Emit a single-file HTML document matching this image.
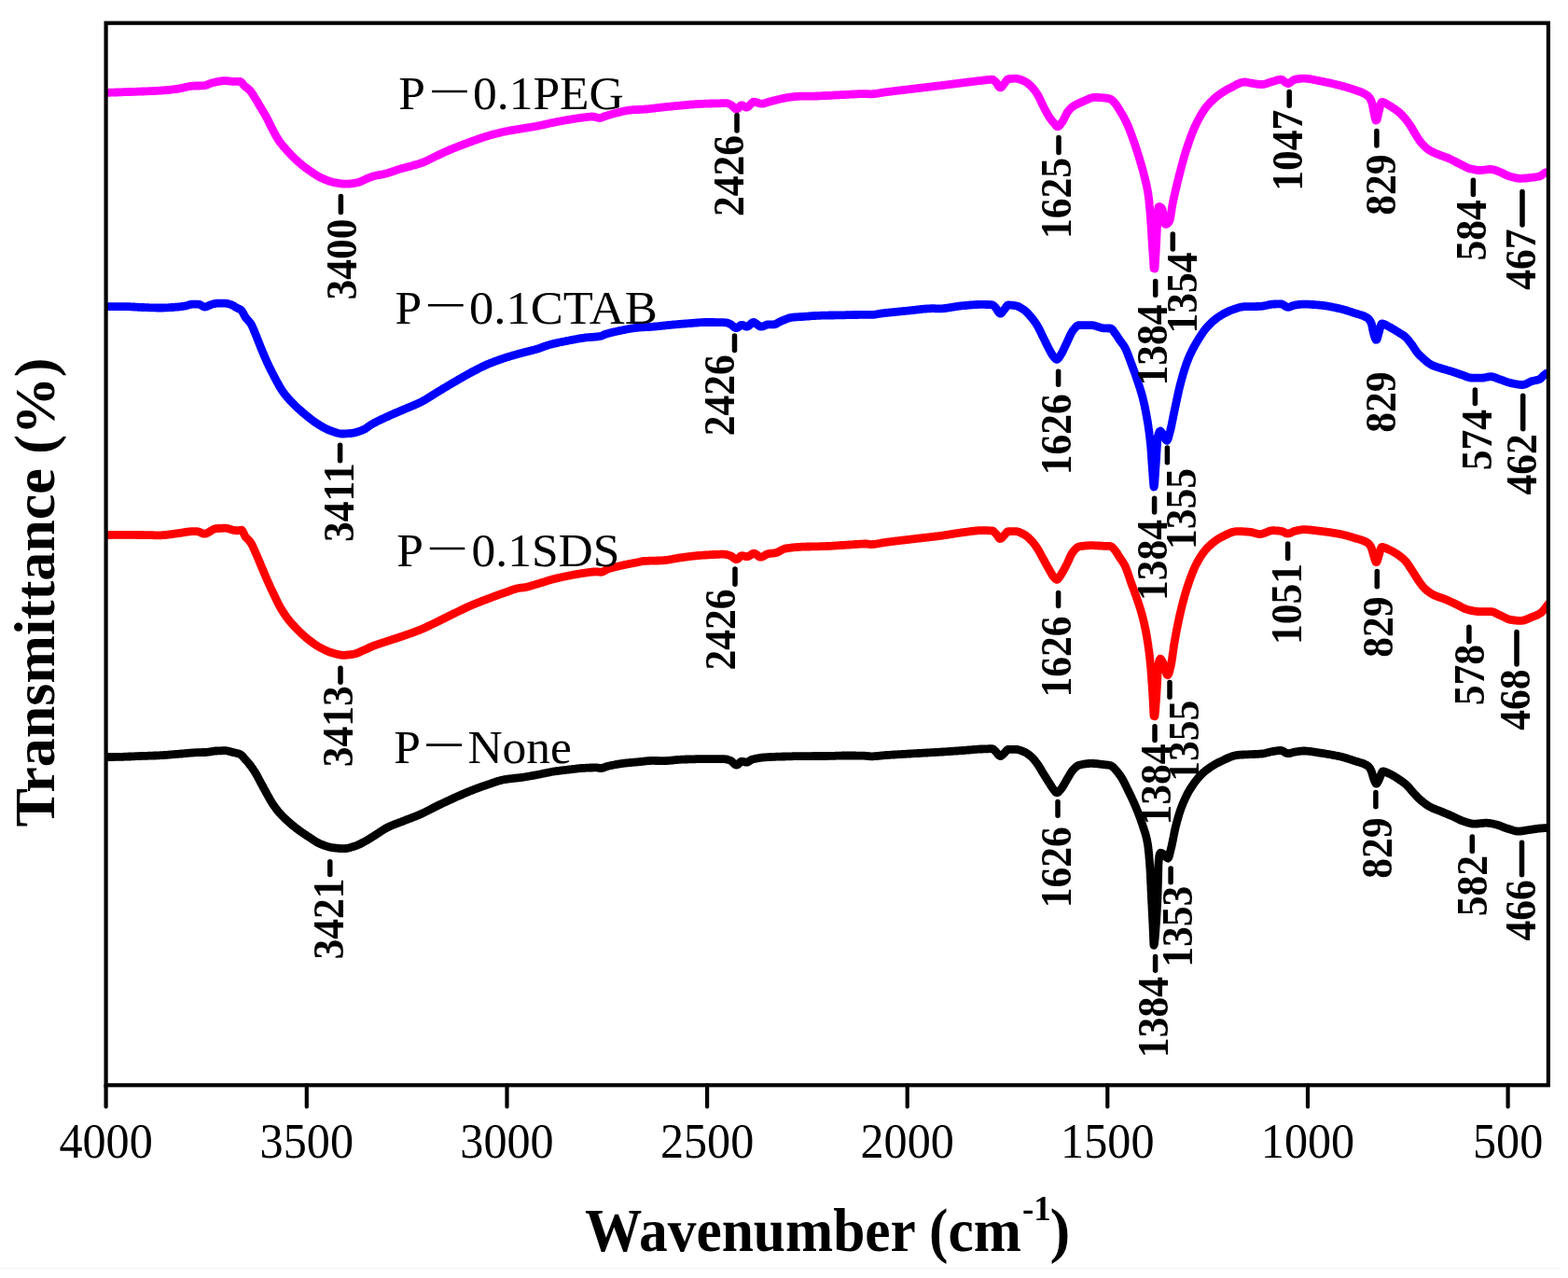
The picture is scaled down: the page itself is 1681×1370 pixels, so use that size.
<!DOCTYPE html><html><head><meta charset="utf-8"><title>FTIR spectra</title><style>html,body{margin:0;padding:0;background:#fff;overflow:hidden}svg{display:block}</style></head><body>
<svg width="1681" height="1370" viewBox="0 0 1681 1370">
<rect width="1681" height="1370" fill="#ffffff"/>
<defs><clipPath id="pc"><rect x="113.6" y="0" width="1546.3" height="1370"/></clipPath></defs>
<g clip-path="url(#pc)" fill="none" stroke-width="8.8" stroke-linejoin="round" stroke-linecap="round">
<path stroke="#ff00ff" d="M110.0,99.3 L111.0,99.3 112.0,99.3 113.0,99.3 114.0,99.3 115.0,99.3 116.0,99.3 117.0,99.3 118.0,99.2 119.0,99.2 120.0,99.2 121.0,99.2 122.0,99.1 123.0,99.1 124.0,99.0 125.0,99.0 126.0,99.0 127.0,98.9 128.0,98.9 129.0,98.8 130.0,98.8 131.0,98.8 132.0,98.7 133.0,98.7 134.0,98.7 135.0,98.6 136.0,98.6 137.0,98.6 138.0,98.5 139.0,98.5 140.0,98.5 141.0,98.4 142.0,98.4 143.0,98.4 144.0,98.3 145.0,98.3 146.0,98.3 147.0,98.2 148.0,98.2 149.0,98.2 150.0,98.1 151.0,98.1 152.0,98.0 153.0,98.0 154.0,98.0 155.0,97.9 156.0,97.9 157.0,97.9 158.0,97.8 159.0,97.8 160.0,97.7 161.0,97.7 162.0,97.6 163.0,97.6 164.0,97.6 165.0,97.5 166.0,97.5 167.0,97.4 168.0,97.4 169.0,97.3 170.0,97.2 171.0,97.2 172.0,97.1 173.0,97.0 174.0,97.0 175.0,96.9 176.0,96.8 177.0,96.7 178.0,96.6 179.0,96.6 180.0,96.5 181.0,96.4 182.0,96.3 183.0,96.2 184.0,96.0 185.0,95.9 186.0,95.8 187.0,95.7 188.0,95.6 189.0,95.4 190.0,95.3 191.0,95.2 192.0,95.0 193.0,94.9 194.0,94.6 195.0,94.4 196.0,94.2 197.0,93.9 198.0,93.7 199.0,93.4 200.0,93.2 201.0,93.0 202.0,92.8 203.0,92.6 204.0,92.4 205.0,92.3 206.0,92.2 207.0,92.1 208.0,92.1 209.0,92.1 210.0,92.0 211.0,92.0 212.0,92.0 213.0,92.0 214.0,91.9 215.0,91.9 216.0,91.9 217.0,91.8 218.0,91.8 219.0,91.7 220.0,91.6 221.0,91.3 222.0,90.9 223.0,90.5 224.0,90.0 225.0,89.6 226.0,89.3 227.0,89.0 228.0,88.8 229.0,88.5 230.0,88.3 231.0,88.1 232.0,87.8 233.0,87.6 234.0,87.4 235.0,87.2 236.0,87.1 237.0,86.9 238.0,86.8 239.0,86.7 240.0,86.6 241.0,86.6 242.0,86.6 243.0,86.7 244.0,86.7 245.0,86.9 246.0,87.0 247.0,87.1 248.0,87.2 249.0,87.3 250.0,87.3 251.0,87.3 252.0,87.3 253.0,87.3 254.0,87.3 255.0,87.3 256.0,87.3 257.0,87.3 258.0,87.5 259.0,88.4 260.0,89.6 261.0,90.9 262.0,92.0 263.0,92.9 264.0,93.7 265.0,94.4 266.0,95.2 267.0,96.1 268.0,97.1 269.0,98.3 270.0,99.6 271.0,101.1 272.0,102.8 273.0,104.4 274.0,106.0 275.0,107.6 276.0,109.3 277.0,111.0 278.0,112.7 279.0,114.4 280.0,116.0 281.0,117.7 282.0,119.4 283.0,121.0 284.0,122.7 285.0,124.5 286.0,126.3 287.0,128.3 288.0,130.3 289.0,132.4 290.0,134.5 291.0,136.5 292.0,138.4 293.0,140.3 294.0,142.2 295.0,144.0 296.0,145.8 297.0,147.6 298.0,149.2 299.0,150.8 300.0,152.2 301.0,153.5 302.0,154.8 303.0,156.0 304.0,157.2 305.0,158.3 306.0,159.5 307.0,160.6 308.0,161.7 309.0,162.8 310.0,163.8 311.0,164.9 312.0,166.0 313.0,167.0 314.0,168.0 315.0,169.0 316.0,170.0 317.0,171.0 318.0,171.9 319.0,172.8 320.0,173.7 321.0,174.6 322.0,175.4 323.0,176.3 324.0,177.1 325.0,177.9 326.0,178.7 327.0,179.4 328.0,180.2 329.0,180.9 330.0,181.6 331.0,182.3 332.0,183.0 333.0,183.7 334.0,184.4 335.0,185.1 336.0,185.7 337.0,186.4 338.0,187.0 339.0,187.7 340.0,188.3 341.0,188.9 342.0,189.4 343.0,190.0 344.0,190.5 345.0,190.9 346.0,191.4 347.0,191.8 348.0,192.2 349.0,192.7 350.0,193.1 351.0,193.4 352.0,193.8 353.0,194.2 354.0,194.5 355.0,194.8 356.0,195.1 357.0,195.4 358.0,195.6 359.0,195.8 360.0,196.0 361.0,196.1 362.0,196.3 363.0,196.5 364.0,196.6 365.0,196.7 366.0,196.9 367.0,197.0 368.0,197.1 369.0,197.1 370.0,197.2 371.0,197.2 372.0,197.2 373.0,197.2 374.0,197.1 375.0,197.0 376.0,196.9 377.0,196.8 378.0,196.6 379.0,196.5 380.0,196.3 381.0,196.1 382.0,196.0 383.0,195.8 384.0,195.5 385.0,195.2 386.0,194.8 387.0,194.4 388.0,194.0 389.0,193.5 390.0,193.1 391.0,192.6 392.0,192.1 393.0,191.7 394.0,191.2 395.0,190.8 396.0,190.4 397.0,190.0 398.0,189.7 399.0,189.3 400.0,189.0 401.0,188.7 402.0,188.5 403.0,188.3 404.0,188.0 405.0,187.8 406.0,187.6 407.0,187.4 408.0,187.3 409.0,187.1 410.0,186.9 411.0,186.7 412.0,186.5 413.0,186.2 414.0,186.0 415.0,185.7 416.0,185.4 417.0,185.1 418.0,184.8 419.0,184.5 420.0,184.1 421.0,183.8 422.0,183.4 423.0,183.1 424.0,182.7 425.0,182.4 426.0,182.0 427.0,181.7 428.0,181.4 429.0,181.1 430.0,180.8 431.0,180.5 432.0,180.2 433.0,180.0 434.0,179.7 435.0,179.5 436.0,179.2 437.0,178.9 438.0,178.7 439.0,178.4 440.0,178.2 441.0,177.9 442.0,177.6 443.0,177.3 444.0,177.1 445.0,176.8 446.0,176.5 447.0,176.2 448.0,175.9 449.0,175.6 450.0,175.3 451.0,175.0 452.0,174.6 453.0,174.3 454.0,173.9 455.0,173.5 456.0,173.0 457.0,172.6 458.0,172.1 459.0,171.6 460.0,171.1 461.0,170.6 462.0,170.1 463.0,169.6 464.0,169.1 465.0,168.6 466.0,168.1 467.0,167.6 468.0,167.1 469.0,166.7 470.0,166.2 471.0,165.7 472.0,165.3 473.0,164.8 474.0,164.3 475.0,163.8 476.0,163.4 477.0,162.9 478.0,162.5 479.0,162.0 480.0,161.6 481.0,161.2 482.0,160.7 483.0,160.3 484.0,159.9 485.0,159.5 486.0,159.1 487.0,158.7 488.0,158.3 489.0,157.9 490.0,157.5 491.0,157.1 492.0,156.7 493.0,156.3 494.0,156.0 495.0,155.6 496.0,155.2 497.0,154.8 498.0,154.4 499.0,154.0 500.0,153.7 501.0,153.3 502.0,152.9 503.0,152.5 504.0,152.2 505.0,151.8 506.0,151.4 507.0,151.1 508.0,150.7 509.0,150.4 510.0,150.0 511.0,149.7 512.0,149.3 513.0,149.0 514.0,148.6 515.0,148.3 516.0,147.9 517.0,147.6 518.0,147.3 519.0,146.9 520.0,146.6 521.0,146.3 522.0,146.0 523.0,145.7 524.0,145.4 525.0,145.1 526.0,144.8 527.0,144.6 528.0,144.3 529.0,144.0 530.0,143.7 531.0,143.5 532.0,143.2 533.0,143.0 534.0,142.7 535.0,142.5 536.0,142.2 537.0,142.0 538.0,141.7 539.0,141.5 540.0,141.3 541.0,141.1 542.0,140.9 543.0,140.7 544.0,140.5 545.0,140.3 546.0,140.1 547.0,139.9 548.0,139.7 549.0,139.6 550.0,139.4 551.0,139.2 552.0,139.1 553.0,138.9 554.0,138.8 555.0,138.6 556.0,138.5 557.0,138.3 558.0,138.1 559.0,138.0 560.0,137.8 561.0,137.6 562.0,137.5 563.0,137.3 564.0,137.1 565.0,137.0 566.0,136.8 567.0,136.7 568.0,136.5 569.0,136.3 570.0,136.2 571.0,136.0 572.0,135.8 573.0,135.7 574.0,135.5 575.0,135.3 576.0,135.1 577.0,134.9 578.0,134.7 579.0,134.5 580.0,134.3 581.0,134.1 582.0,133.9 583.0,133.6 584.0,133.4 585.0,133.2 586.0,132.9 587.0,132.7 588.0,132.5 589.0,132.2 590.0,132.0 591.0,131.8 592.0,131.6 593.0,131.4 594.0,131.2 595.0,131.0 596.0,130.8 597.0,130.6 598.0,130.4 599.0,130.2 600.0,130.0 601.0,129.8 602.0,129.7 603.0,129.5 604.0,129.3 605.0,129.1 606.0,129.0 607.0,128.8 608.0,128.6 609.0,128.5 610.0,128.3 611.0,128.1 612.0,128.0 613.0,127.8 614.0,127.6 615.0,127.5 616.0,127.3 617.0,127.2 618.0,127.0 619.0,126.8 620.0,126.7 621.0,126.5 622.0,126.4 623.0,126.3 624.0,126.1 625.0,126.0 626.0,125.9 627.0,125.8 628.0,125.6 629.0,125.5 630.0,125.4 631.0,125.3 632.0,125.2 633.0,125.1 634.0,125.0 635.0,125.0 636.0,125.1 637.0,125.2 638.0,125.4 639.0,125.7 640.0,126.0 641.0,126.2 642.0,126.4 643.0,126.5 644.0,126.4 645.0,126.1 646.0,125.6 647.0,125.2 648.0,124.8 649.0,124.5 650.0,124.2 651.0,123.9 652.0,123.6 653.0,123.2 654.0,122.9 655.0,122.6 656.0,122.4 657.0,122.1 658.0,121.8 659.0,121.5 660.0,121.3 661.0,121.1 662.0,120.8 663.0,120.6 664.0,120.3 665.0,120.1 666.0,119.8 667.0,119.6 668.0,119.3 669.0,119.1 670.0,118.9 671.0,118.7 672.0,118.5 673.0,118.4 674.0,118.2 675.0,118.1 676.0,118.0 677.0,117.9 678.0,117.8 679.0,117.7 680.0,117.7 681.0,117.6 682.0,117.6 683.0,117.5 684.0,117.5 685.0,117.5 686.0,117.4 687.0,117.4 688.0,117.3 689.0,117.3 690.0,117.2 691.0,117.1 692.0,117.0 693.0,117.0 694.0,116.9 695.0,116.8 696.0,116.7 697.0,116.5 698.0,116.4 699.0,116.3 700.0,116.2 701.0,116.1 702.0,116.0 703.0,115.8 704.0,115.7 705.0,115.6 706.0,115.5 707.0,115.4 708.0,115.2 709.0,115.1 710.0,115.0 711.0,114.9 712.0,114.8 713.0,114.7 714.0,114.6 715.0,114.5 716.0,114.4 717.0,114.3 718.0,114.2 719.0,114.1 720.0,114.0 721.0,113.9 722.0,113.8 723.0,113.7 724.0,113.6 725.0,113.5 726.0,113.4 727.0,113.3 728.0,113.2 729.0,113.1 730.0,113.0 731.0,113.0 732.0,112.9 733.0,112.8 734.0,112.7 735.0,112.6 736.0,112.5 737.0,112.4 738.0,112.3 739.0,112.2 740.0,112.1 741.0,112.0 742.0,112.0 743.0,111.9 744.0,111.8 745.0,111.7 746.0,111.7 747.0,111.6 748.0,111.5 749.0,111.5 750.0,111.4 751.0,111.4 752.0,111.3 753.0,111.3 754.0,111.3 755.0,111.2 756.0,111.2 757.0,111.2 758.0,111.1 759.0,111.1 760.0,111.1 761.0,111.0 762.0,111.0 763.0,111.0 764.0,110.9 765.0,110.9 766.0,110.9 767.0,110.9 768.0,110.8 769.0,110.8 770.0,110.8 771.0,110.8 772.0,110.8 773.0,110.7 774.0,110.7 775.0,110.7 776.0,110.7 777.0,110.7 778.0,110.7 779.0,110.7 780.0,110.8 781.0,111.1 782.0,111.6 783.0,112.1 784.0,112.6 785.0,113.4 786.0,114.4 787.0,115.5 788.0,116.5 789.0,117.1 790.0,117.1 791.0,116.5 792.0,115.4 793.0,114.2 794.0,113.2 795.0,112.7 796.0,112.9 797.0,113.4 798.0,114.2 799.0,114.8 800.0,115.2 801.0,115.0 802.0,114.4 803.0,113.5 804.0,112.5 805.0,111.4 806.0,110.4 807.0,109.6 808.0,109.2 809.0,109.2 810.0,109.4 811.0,109.7 812.0,110.1 813.0,110.4 814.0,110.8 815.0,111.0 816.0,111.2 817.0,111.2 818.0,111.1 819.0,110.9 820.0,110.6 821.0,110.3 822.0,110.0 823.0,109.6 824.0,109.3 825.0,109.1 826.0,108.8 827.0,108.5 828.0,108.3 829.0,108.0 830.0,107.7 831.0,107.5 832.0,107.2 833.0,106.9 834.0,106.7 835.0,106.5 836.0,106.2 837.0,106.0 838.0,105.8 839.0,105.6 840.0,105.4 841.0,105.2 842.0,105.0 843.0,104.8 844.0,104.6 845.0,104.5 846.0,104.3 847.0,104.2 848.0,104.1 849.0,104.0 850.0,103.8 851.0,103.7 852.0,103.6 853.0,103.5 854.0,103.4 855.0,103.3 856.0,103.3 857.0,103.2 858.0,103.1 859.0,103.1 860.0,103.1 861.0,103.1 862.0,103.1 863.0,103.1 864.0,103.1 865.0,103.2 866.0,103.2 867.0,103.2 868.0,103.2 869.0,103.2 870.0,103.2 871.0,103.2 872.0,103.1 873.0,103.1 874.0,103.1 875.0,103.0 876.0,103.0 877.0,102.9 878.0,102.9 879.0,102.8 880.0,102.8 881.0,102.7 882.0,102.7 883.0,102.6 884.0,102.6 885.0,102.5 886.0,102.5 887.0,102.5 888.0,102.4 889.0,102.4 890.0,102.3 891.0,102.3 892.0,102.2 893.0,102.2 894.0,102.1 895.0,102.0 896.0,102.0 897.0,101.9 898.0,101.9 899.0,101.8 900.0,101.8 901.0,101.7 902.0,101.7 903.0,101.6 904.0,101.6 905.0,101.5 906.0,101.5 907.0,101.4 908.0,101.4 909.0,101.3 910.0,101.3 911.0,101.2 912.0,101.2 913.0,101.1 914.0,101.0 915.0,101.0 916.0,100.9 917.0,100.9 918.0,100.8 919.0,100.8 920.0,100.7 921.0,100.7 922.0,100.7 923.0,100.6 924.0,100.6 925.0,100.6 926.0,100.6 927.0,100.6 928.0,100.6 929.0,100.7 930.0,100.7 931.0,100.7 932.0,100.8 933.0,100.8 934.0,100.8 935.0,100.8 936.0,100.7 937.0,100.6 938.0,100.5 939.0,100.4 940.0,100.3 941.0,100.1 942.0,100.0 943.0,99.8 944.0,99.6 945.0,99.4 946.0,99.3 947.0,99.1 948.0,99.0 949.0,98.8 950.0,98.7 951.0,98.6 952.0,98.5 953.0,98.3 954.0,98.2 955.0,98.1 956.0,98.0 957.0,97.8 958.0,97.7 959.0,97.6 960.0,97.5 961.0,97.3 962.0,97.2 963.0,97.1 964.0,97.0 965.0,96.9 966.0,96.7 967.0,96.6 968.0,96.5 969.0,96.4 970.0,96.3 971.0,96.2 972.0,96.0 973.0,95.9 974.0,95.8 975.0,95.7 976.0,95.6 977.0,95.4 978.0,95.3 979.0,95.2 980.0,95.1 981.0,95.0 982.0,94.8 983.0,94.7 984.0,94.6 985.0,94.5 986.0,94.4 987.0,94.3 988.0,94.1 989.0,94.0 990.0,93.9 991.0,93.8 992.0,93.7 993.0,93.6 994.0,93.4 995.0,93.3 996.0,93.2 997.0,93.1 998.0,93.0 999.0,92.9 1000.0,92.7 1001.0,92.6 1002.0,92.5 1003.0,92.4 1004.0,92.3 1005.0,92.1 1006.0,92.0 1007.0,91.9 1008.0,91.8 1009.0,91.7 1010.0,91.5 1011.0,91.4 1012.0,91.3 1013.0,91.2 1014.0,91.0 1015.0,90.9 1016.0,90.8 1017.0,90.7 1018.0,90.5 1019.0,90.4 1020.0,90.3 1021.0,90.1 1022.0,90.0 1023.0,89.9 1024.0,89.8 1025.0,89.6 1026.0,89.5 1027.0,89.4 1028.0,89.3 1029.0,89.1 1030.0,89.0 1031.0,88.9 1032.0,88.8 1033.0,88.6 1034.0,88.5 1035.0,88.4 1036.0,88.3 1037.0,88.1 1038.0,88.0 1039.0,87.9 1040.0,87.8 1041.0,87.7 1042.0,87.5 1043.0,87.4 1044.0,87.3 1045.0,87.2 1046.0,87.1 1047.0,86.9 1048.0,86.8 1049.0,86.7 1050.0,86.6 1051.0,86.5 1052.0,86.4 1053.0,86.3 1054.0,86.1 1055.0,86.0 1056.0,85.9 1057.0,85.8 1058.0,85.6 1059.0,85.5 1060.0,85.4 1061.0,85.3 1062.0,85.3 1063.0,85.2 1064.0,85.2 1065.0,85.6 1066.0,86.4 1067.0,87.4 1068.0,88.4 1069.0,89.9 1070.0,91.6 1071.0,93.1 1072.0,93.9 1073.0,93.8 1074.0,93.0 1075.0,91.7 1076.0,90.4 1077.0,89.2 1078.0,87.8 1079.0,86.4 1080.0,85.2 1081.0,84.8 1082.0,84.6 1083.0,84.5 1084.0,84.4 1085.0,84.3 1086.0,84.3 1087.0,84.2 1088.0,84.2 1089.0,84.2 1090.0,84.3 1091.0,84.4 1092.0,84.7 1093.0,85.0 1094.0,85.3 1095.0,85.7 1096.0,86.1 1097.0,86.5 1098.0,86.9 1099.0,87.4 1100.0,88.0 1101.0,88.7 1102.0,89.5 1103.0,90.3 1104.0,91.2 1105.0,92.1 1106.0,93.1 1107.0,94.2 1108.0,95.3 1109.0,96.6 1110.0,97.9 1111.0,99.4 1112.0,100.9 1113.0,102.6 1114.0,104.5 1115.0,106.5 1116.0,108.7 1117.0,110.8 1118.0,112.9 1119.0,114.9 1120.0,116.8 1121.0,118.6 1122.0,120.5 1123.0,122.3 1124.0,124.0 1125.0,125.6 1126.0,127.0 1127.0,128.4 1128.0,129.7 1129.0,130.9 1130.0,132.0 1131.0,133.2 1132.0,134.5 1133.0,135.6 1134.0,135.9 1135.0,135.4 1136.0,134.4 1137.0,133.2 1138.0,131.8 1139.0,130.5 1140.0,128.7 1141.0,126.8 1142.0,124.7 1143.0,122.7 1144.0,120.8 1145.0,119.4 1146.0,118.2 1147.0,117.0 1148.0,116.0 1149.0,115.1 1150.0,114.4 1151.0,113.7 1152.0,113.1 1153.0,112.5 1154.0,112.0 1155.0,111.5 1156.0,111.0 1157.0,110.5 1158.0,110.1 1159.0,109.7 1160.0,109.2 1161.0,108.8 1162.0,108.4 1163.0,107.9 1164.0,107.5 1165.0,107.0 1166.0,106.5 1167.0,106.1 1168.0,105.7 1169.0,105.3 1170.0,105.0 1171.0,104.7 1172.0,104.5 1173.0,104.4 1174.0,104.4 1175.0,104.4 1176.0,104.4 1177.0,104.5 1178.0,104.5 1179.0,104.6 1180.0,104.6 1181.0,104.7 1182.0,104.8 1183.0,104.9 1184.0,105.0 1185.0,105.1 1186.0,105.2 1187.0,105.4 1188.0,105.6 1189.0,105.7 1190.0,106.0 1191.0,106.5 1192.0,107.2 1193.0,108.1 1194.0,109.1 1195.0,110.1 1196.0,111.4 1197.0,112.8 1198.0,114.4 1199.0,116.0 1200.0,117.6 1201.0,119.2 1202.0,120.9 1203.0,122.6 1204.0,124.3 1205.0,126.1 1206.0,128.0 1207.0,130.0 1208.0,132.0 1209.0,134.3 1210.0,136.7 1211.0,139.2 1212.0,141.8 1213.0,144.5 1214.0,147.2 1215.0,150.0 1216.0,152.9 1217.0,155.8 1217.5,157.3 1218.0,158.8 1218.5,160.4 1219.0,161.9 1219.5,163.5 1220.0,165.1 1220.5,166.7 1221.0,168.3 1221.5,169.9 1222.0,171.6 1222.5,173.2 1223.0,174.9 1223.5,176.6 1224.0,178.3 1224.5,180.1 1225.0,181.9 1225.5,183.7 1226.0,185.6 1226.5,187.6 1227.0,189.6 1227.5,191.6 1228.0,193.6 1228.5,195.6 1229.0,197.8 1229.5,200.1 1230.0,202.6 1230.5,205.4 1231.0,208.5 1231.3,210.9 1231.7,213.7 1232.0,216.8 1232.2,219.4 1232.5,222.1 1232.8,224.9 1233.0,227.8 1233.2,230.2 1233.4,232.6 1233.6,235.2 1233.8,238.0 1234.0,241.0 1234.2,243.6 1234.3,246.2 1234.5,248.9 1234.7,251.5 1234.8,254.1 1235.0,256.7 1235.2,259.2 1235.3,261.8 1235.5,264.3 1235.7,266.8 1235.8,269.4 1236.0,271.9 1236.2,274.4 1236.3,276.9 1236.5,279.3 1236.7,281.8 1236.8,284.8 1237.0,287.8 1238.0,288.0 1238.2,285.9 1238.3,283.4 1238.5,280.8 1238.7,278.1 1238.8,275.4 1239.0,272.8 1239.1,270.5 1239.3,267.8 1239.4,264.9 1239.6,261.8 1239.7,258.6 1239.9,255.4 1240.0,252.2 1240.2,248.6 1240.3,245.2 1240.5,242.2 1240.7,239.6 1240.8,236.9 1241.0,234.2 1241.2,231.0 1241.4,228.0 1241.6,225.4 1241.8,223.3 1242.0,221.9 1243.0,221.5 1244.0,222.0 1245.0,222.7 1246.0,224.4 1246.5,226.8 1247.0,229.7 1247.3,231.8 1247.7,233.9 1248.0,235.9 1248.5,238.5 1249.0,240.1 1250.0,240.5 1251.0,240.0 1252.0,239.2 1253.0,238.1 1254.0,236.2 1254.5,234.3 1255.0,231.7 1255.3,229.7 1255.7,227.6 1256.0,225.4 1256.3,223.2 1256.7,221.1 1257.0,219.1 1257.5,216.5 1258.0,214.2 1258.5,211.9 1259.0,209.6 1259.5,207.4 1260.0,205.2 1260.5,203.1 1261.0,200.9 1261.5,198.9 1262.0,196.8 1262.5,194.8 1263.0,192.8 1263.5,190.8 1264.0,188.8 1264.5,186.9 1265.0,184.9 1265.5,183.0 1266.0,181.0 1266.5,179.1 1267.0,177.2 1267.5,175.4 1268.0,173.5 1268.5,171.7 1269.0,169.9 1269.5,168.2 1270.0,166.5 1270.5,164.8 1271.0,163.1 1271.5,161.5 1272.0,160.0 1272.5,158.5 1273.0,157.0 1274.0,154.0 1275.0,151.1 1276.0,148.3 1277.0,145.6 1278.0,143.0 1279.0,140.5 1280.0,138.1 1281.0,135.9 1282.0,133.8 1283.0,131.7 1284.0,129.7 1285.0,127.8 1286.0,125.9 1287.0,124.1 1288.0,122.4 1289.0,120.8 1290.0,119.2 1291.0,117.7 1292.0,116.3 1293.0,115.0 1294.0,113.8 1295.0,112.6 1296.0,111.5 1297.0,110.4 1298.0,109.3 1299.0,108.3 1300.0,107.4 1301.0,106.4 1302.0,105.5 1303.0,104.7 1304.0,103.8 1305.0,103.0 1306.0,102.3 1307.0,101.5 1308.0,100.8 1309.0,100.1 1310.0,99.4 1311.0,98.8 1312.0,98.1 1313.0,97.5 1314.0,96.9 1315.0,96.3 1316.0,95.8 1317.0,95.3 1318.0,94.7 1319.0,94.2 1320.0,93.7 1321.0,93.2 1322.0,92.7 1323.0,92.1 1324.0,91.6 1325.0,91.0 1326.0,90.5 1327.0,90.0 1328.0,89.6 1329.0,89.2 1330.0,88.8 1331.0,88.5 1332.0,88.3 1333.0,88.1 1334.0,88.0 1335.0,88.0 1336.0,88.1 1337.0,88.3 1338.0,88.5 1339.0,88.7 1340.0,88.9 1341.0,89.1 1342.0,89.2 1343.0,89.4 1344.0,89.5 1345.0,89.7 1346.0,89.9 1347.0,90.0 1348.0,90.2 1349.0,90.3 1350.0,90.4 1351.0,90.4 1352.0,90.5 1353.0,90.5 1354.0,90.4 1355.0,90.3 1356.0,90.1 1357.0,89.8 1358.0,89.5 1359.0,89.2 1360.0,88.8 1361.0,88.5 1362.0,88.1 1363.0,87.8 1364.0,87.5 1365.0,87.2 1366.0,86.9 1367.0,86.6 1368.0,86.3 1369.0,85.9 1370.0,85.7 1371.0,85.4 1372.0,85.3 1373.0,85.2 1374.0,85.3 1375.0,85.8 1376.0,86.6 1377.0,87.4 1378.0,88.2 1379.0,88.9 1380.0,89.4 1381.0,89.5 1382.0,89.2 1383.0,88.6 1384.0,87.9 1385.0,87.1 1386.0,86.3 1387.0,85.7 1388.0,85.2 1389.0,85.0 1390.0,84.9 1391.0,84.7 1392.0,84.5 1393.0,84.4 1394.0,84.3 1395.0,84.2 1396.0,84.1 1397.0,84.1 1398.0,84.1 1399.0,84.1 1400.0,84.2 1401.0,84.3 1402.0,84.4 1403.0,84.5 1404.0,84.6 1405.0,84.8 1406.0,85.0 1407.0,85.2 1408.0,85.4 1409.0,85.6 1410.0,85.8 1411.0,86.0 1412.0,86.2 1413.0,86.4 1414.0,86.6 1415.0,86.8 1416.0,87.0 1417.0,87.2 1418.0,87.4 1419.0,87.6 1420.0,87.8 1421.0,88.0 1422.0,88.2 1423.0,88.4 1424.0,88.6 1425.0,88.8 1426.0,89.1 1427.0,89.3 1428.0,89.5 1429.0,89.8 1430.0,90.0 1431.0,90.2 1432.0,90.5 1433.0,90.7 1434.0,91.0 1435.0,91.2 1436.0,91.5 1437.0,91.8 1438.0,92.0 1439.0,92.3 1440.0,92.6 1441.0,92.8 1442.0,93.1 1443.0,93.4 1444.0,93.7 1445.0,94.0 1446.0,94.3 1447.0,94.6 1448.0,94.9 1449.0,95.2 1450.0,95.6 1451.0,95.9 1452.0,96.3 1453.0,96.6 1454.0,97.0 1455.0,97.3 1456.0,97.6 1457.0,98.0 1458.0,98.3 1459.0,98.7 1460.0,99.1 1461.0,99.5 1462.0,100.0 1463.0,100.6 1464.0,101.1 1465.0,101.8 1466.0,102.5 1467.0,103.3 1468.0,104.5 1469.0,106.0 1470.0,107.9 1471.0,110.7 1471.5,113.1 1472.0,115.9 1472.5,118.6 1473.0,120.9 1473.5,123.2 1474.0,125.5 1474.5,127.6 1475.0,129.0 1476.0,128.9 1476.5,127.3 1477.0,125.0 1477.5,122.5 1478.0,120.4 1478.5,118.5 1479.0,116.3 1479.5,114.1 1480.0,112.1 1481.0,109.5 1482.0,109.3 1483.0,109.6 1484.0,109.9 1485.0,110.4 1486.0,111.0 1487.0,111.7 1488.0,112.3 1489.0,113.0 1490.0,113.6 1491.0,114.1 1492.0,114.7 1493.0,115.4 1494.0,116.0 1495.0,116.7 1496.0,117.4 1497.0,118.1 1498.0,118.9 1499.0,119.7 1500.0,120.5 1501.0,121.3 1502.0,122.3 1503.0,123.3 1504.0,124.3 1505.0,125.5 1506.0,126.6 1507.0,127.8 1508.0,129.1 1509.0,130.4 1510.0,131.8 1511.0,133.2 1512.0,134.7 1513.0,136.3 1514.0,137.9 1515.0,139.7 1516.0,141.4 1517.0,143.1 1518.0,144.7 1519.0,146.3 1520.0,147.9 1521.0,149.4 1522.0,150.9 1523.0,152.3 1524.0,153.5 1525.0,154.6 1526.0,155.7 1527.0,156.7 1528.0,157.7 1529.0,158.6 1530.0,159.4 1531.0,160.1 1532.0,160.8 1533.0,161.4 1534.0,162.0 1535.0,162.5 1536.0,163.0 1537.0,163.5 1538.0,163.9 1539.0,164.4 1540.0,164.8 1541.0,165.2 1542.0,165.6 1543.0,166.0 1544.0,166.4 1545.0,166.8 1546.0,167.1 1547.0,167.5 1548.0,167.8 1549.0,168.2 1550.0,168.5 1551.0,168.9 1552.0,169.3 1553.0,169.7 1554.0,170.1 1555.0,170.6 1556.0,171.1 1557.0,171.6 1558.0,172.1 1559.0,172.6 1560.0,173.2 1561.0,173.7 1562.0,174.2 1563.0,174.7 1564.0,175.2 1565.0,175.7 1566.0,176.2 1567.0,176.7 1568.0,177.2 1569.0,177.8 1570.0,178.3 1571.0,178.8 1572.0,179.3 1573.0,179.8 1574.0,180.2 1575.0,180.5 1576.0,180.9 1577.0,181.1 1578.0,181.3 1579.0,181.5 1580.0,181.7 1581.0,181.9 1582.0,182.1 1583.0,182.3 1584.0,182.4 1585.0,182.5 1586.0,182.5 1587.0,182.5 1588.0,182.4 1589.0,182.4 1590.0,182.3 1591.0,182.2 1592.0,182.0 1593.0,181.9 1594.0,181.8 1595.0,181.7 1596.0,181.6 1597.0,181.5 1598.0,181.5 1599.0,181.5 1600.0,181.7 1601.0,181.9 1602.0,182.1 1603.0,182.5 1604.0,182.8 1605.0,183.2 1606.0,183.6 1607.0,184.0 1608.0,184.4 1609.0,184.8 1610.0,185.2 1611.0,185.7 1612.0,186.2 1613.0,186.7 1614.0,187.2 1615.0,187.7 1616.0,188.2 1617.0,188.5 1618.0,188.9 1619.0,189.2 1620.0,189.5 1621.0,189.7 1622.0,190.0 1623.0,190.3 1624.0,190.6 1625.0,190.8 1626.0,191.0 1627.0,191.1 1628.0,191.2 1629.0,191.3 1630.0,191.3 1631.0,191.3 1632.0,191.2 1633.0,191.2 1634.0,191.1 1635.0,191.1 1636.0,191.0 1637.0,190.9 1638.0,190.8 1639.0,190.7 1640.0,190.6 1641.0,190.4 1642.0,190.3 1643.0,190.2 1644.0,190.1 1645.0,190.0 1646.0,189.9 1647.0,189.7 1648.0,189.5 1649.0,189.3 1650.0,189.1 1651.0,188.9 1652.0,188.4 1653.0,187.7 1654.0,186.9 1655.0,186.1 1656.0,185.4 1657.0,185.0 1658.0,184.7 1659.0,184.4 1660.0,184.1 1661.0,183.9 1662.0,183.6 1663.0,183.4 1664.0,183.2 1665.0,183.0"/>
<path stroke="#0000ff" d="M110.0,328.6 L111.0,328.6 112.0,328.6 113.0,328.6 114.0,328.6 115.0,328.6 116.0,328.6 117.0,328.6 118.0,328.6 119.0,328.6 120.0,328.6 121.0,328.6 122.0,328.6 123.0,328.6 124.0,328.6 125.0,328.6 126.0,328.6 127.0,328.6 128.0,328.6 129.0,328.6 130.0,328.6 131.0,328.6 132.0,328.6 133.0,328.6 134.0,328.6 135.0,328.6 136.0,328.6 137.0,328.7 138.0,328.7 139.0,328.7 140.0,328.8 141.0,328.8 142.0,328.9 143.0,329.0 144.0,329.0 145.0,329.1 146.0,329.1 147.0,329.2 148.0,329.3 149.0,329.3 150.0,329.4 151.0,329.4 152.0,329.5 153.0,329.5 154.0,329.5 155.0,329.6 156.0,329.6 157.0,329.6 158.0,329.7 159.0,329.7 160.0,329.8 161.0,329.8 162.0,329.8 163.0,329.9 164.0,329.9 165.0,329.9 166.0,329.9 167.0,329.9 168.0,330.0 169.0,330.0 170.0,330.0 171.0,330.0 172.0,330.0 173.0,330.0 174.0,330.0 175.0,330.0 176.0,329.9 177.0,329.9 178.0,329.9 179.0,329.8 180.0,329.8 181.0,329.7 182.0,329.7 183.0,329.6 184.0,329.5 185.0,329.5 186.0,329.4 187.0,329.3 188.0,329.2 189.0,329.2 190.0,329.1 191.0,329.0 192.0,328.9 193.0,328.8 194.0,328.7 195.0,328.5 196.0,328.4 197.0,328.2 198.0,328.1 199.0,327.9 200.0,327.7 201.0,327.4 202.0,327.1 203.0,326.7 204.0,326.4 205.0,326.2 206.0,326.2 207.0,326.2 208.0,326.2 209.0,326.2 210.0,326.2 211.0,326.2 212.0,326.2 213.0,326.2 214.0,326.4 215.0,326.9 216.0,327.5 217.0,328.1 218.0,328.6 219.0,329.0 220.0,329.0 221.0,328.8 222.0,328.4 223.0,328.0 224.0,327.5 225.0,327.1 226.0,326.7 227.0,326.4 228.0,326.1 229.0,325.8 230.0,325.6 231.0,325.4 232.0,325.2 233.0,325.2 234.0,325.2 235.0,325.2 236.0,325.2 237.0,325.2 238.0,325.2 239.0,325.2 240.0,325.2 241.0,325.2 242.0,325.2 243.0,325.3 244.0,325.5 245.0,325.8 246.0,326.1 247.0,326.4 248.0,326.7 249.0,327.1 250.0,327.6 251.0,328.2 252.0,328.9 253.0,329.5 254.0,330.1 255.0,330.6 256.0,331.0 257.0,331.4 258.0,332.0 259.0,332.9 260.0,334.4 261.0,336.2 262.0,338.1 263.0,339.9 264.0,341.3 265.0,342.4 266.0,343.5 267.0,344.6 268.0,345.8 269.0,347.2 270.0,349.0 271.0,351.2 272.0,353.5 273.0,356.0 274.0,358.4 275.0,360.8 276.0,363.3 277.0,365.9 278.0,368.4 279.0,371.0 280.0,373.5 281.0,375.9 282.0,378.3 283.0,380.7 284.0,383.0 285.0,385.3 286.0,387.6 287.0,389.7 288.0,391.8 289.0,393.9 290.0,396.0 291.0,397.9 292.0,399.9 293.0,401.8 294.0,403.7 295.0,405.6 296.0,407.5 297.0,409.4 298.0,411.2 299.0,413.0 300.0,414.8 301.0,416.4 302.0,418.0 303.0,419.5 304.0,420.9 305.0,422.2 306.0,423.5 307.0,424.7 308.0,425.9 309.0,427.0 310.0,428.2 311.0,429.3 312.0,430.3 313.0,431.4 314.0,432.4 315.0,433.4 316.0,434.4 317.0,435.4 318.0,436.3 319.0,437.3 320.0,438.2 321.0,439.1 322.0,440.0 323.0,440.8 324.0,441.7 325.0,442.5 326.0,443.4 327.0,444.2 328.0,445.1 329.0,445.9 330.0,446.7 331.0,447.5 332.0,448.3 333.0,449.1 334.0,449.9 335.0,450.6 336.0,451.4 337.0,452.1 338.0,452.8 339.0,453.4 340.0,454.1 341.0,454.7 342.0,455.4 343.0,456.0 344.0,456.6 345.0,457.2 346.0,457.8 347.0,458.3 348.0,458.9 349.0,459.4 350.0,459.9 351.0,460.3 352.0,460.8 353.0,461.2 354.0,461.5 355.0,461.9 356.0,462.3 357.0,462.6 358.0,463.0 359.0,463.3 360.0,463.7 361.0,464.0 362.0,464.3 363.0,464.5 364.0,464.7 365.0,464.9 366.0,465.0 367.0,465.0 368.0,465.0 369.0,465.0 370.0,464.9 371.0,464.9 372.0,464.8 373.0,464.7 374.0,464.7 375.0,464.6 376.0,464.5 377.0,464.4 378.0,464.2 379.0,464.1 380.0,463.9 381.0,463.6 382.0,463.4 383.0,463.1 384.0,462.7 385.0,462.4 386.0,462.0 387.0,461.7 388.0,461.3 389.0,460.8 390.0,460.4 391.0,460.0 392.0,459.4 393.0,458.7 394.0,458.0 395.0,457.2 396.0,456.5 397.0,455.8 398.0,455.2 399.0,454.6 400.0,454.1 401.0,453.5 402.0,453.0 403.0,452.5 404.0,451.9 405.0,451.4 406.0,450.9 407.0,450.5 408.0,450.0 409.0,449.5 410.0,449.0 411.0,448.6 412.0,448.1 413.0,447.6 414.0,447.2 415.0,446.7 416.0,446.3 417.0,445.8 418.0,445.4 419.0,444.9 420.0,444.5 421.0,444.0 422.0,443.6 423.0,443.2 424.0,442.7 425.0,442.3 426.0,441.9 427.0,441.5 428.0,441.0 429.0,440.6 430.0,440.2 431.0,439.8 432.0,439.3 433.0,438.9 434.0,438.5 435.0,438.1 436.0,437.6 437.0,437.2 438.0,436.8 439.0,436.4 440.0,436.0 441.0,435.6 442.0,435.1 443.0,434.7 444.0,434.3 445.0,433.9 446.0,433.4 447.0,433.0 448.0,432.5 449.0,432.1 450.0,431.6 451.0,431.1 452.0,430.6 453.0,430.1 454.0,429.5 455.0,429.0 456.0,428.4 457.0,427.8 458.0,427.2 459.0,426.6 460.0,425.9 461.0,425.3 462.0,424.7 463.0,424.1 464.0,423.4 465.0,422.8 466.0,422.2 467.0,421.5 468.0,420.9 469.0,420.3 470.0,419.7 471.0,419.1 472.0,418.5 473.0,417.9 474.0,417.3 475.0,416.7 476.0,416.1 477.0,415.5 478.0,414.9 479.0,414.3 480.0,413.7 481.0,413.1 482.0,412.5 483.0,411.9 484.0,411.3 485.0,410.7 486.0,410.1 487.0,409.6 488.0,409.0 489.0,408.4 490.0,407.8 491.0,407.2 492.0,406.6 493.0,406.1 494.0,405.5 495.0,404.9 496.0,404.3 497.0,403.8 498.0,403.2 499.0,402.6 500.0,402.1 501.0,401.5 502.0,401.0 503.0,400.4 504.0,399.9 505.0,399.3 506.0,398.8 507.0,398.3 508.0,397.8 509.0,397.2 510.0,396.7 511.0,396.2 512.0,395.7 513.0,395.1 514.0,394.6 515.0,394.1 516.0,393.6 517.0,393.2 518.0,392.7 519.0,392.2 520.0,391.7 521.0,391.3 522.0,390.8 523.0,390.4 524.0,390.0 525.0,389.6 526.0,389.2 527.0,388.8 528.0,388.4 529.0,388.0 530.0,387.6 531.0,387.2 532.0,386.9 533.0,386.5 534.0,386.2 535.0,385.8 536.0,385.5 537.0,385.1 538.0,384.8 539.0,384.4 540.0,384.1 541.0,383.8 542.0,383.4 543.0,383.1 544.0,382.8 545.0,382.5 546.0,382.2 547.0,381.9 548.0,381.6 549.0,381.3 550.0,381.0 551.0,380.7 552.0,380.4 553.0,380.1 554.0,379.9 555.0,379.6 556.0,379.3 557.0,379.0 558.0,378.7 559.0,378.5 560.0,378.2 561.0,377.9 562.0,377.7 563.0,377.4 564.0,377.2 565.0,376.9 566.0,376.7 567.0,376.4 568.0,376.2 569.0,375.9 570.0,375.7 571.0,375.4 572.0,375.2 573.0,374.9 574.0,374.6 575.0,374.4 576.0,374.1 577.0,373.8 578.0,373.4 579.0,373.1 580.0,372.7 581.0,372.3 582.0,372.0 583.0,371.6 584.0,371.2 585.0,370.9 586.0,370.5 587.0,370.2 588.0,369.9 589.0,369.6 590.0,369.3 591.0,369.1 592.0,368.8 593.0,368.6 594.0,368.3 595.0,368.1 596.0,367.9 597.0,367.7 598.0,367.4 599.0,367.2 600.0,367.0 601.0,366.8 602.0,366.6 603.0,366.4 604.0,366.2 605.0,366.0 606.0,365.8 607.0,365.6 608.0,365.4 609.0,365.2 610.0,365.0 611.0,364.8 612.0,364.6 613.0,364.4 614.0,364.2 615.0,364.0 616.0,363.9 617.0,363.7 618.0,363.5 619.0,363.3 620.0,363.1 621.0,362.9 622.0,362.8 623.0,362.6 624.0,362.5 625.0,362.3 626.0,362.2 627.0,362.0 628.0,361.9 629.0,361.8 630.0,361.7 631.0,361.7 632.0,361.6 633.0,361.5 634.0,361.4 635.0,361.4 636.0,361.3 637.0,361.2 638.0,361.1 639.0,361.0 640.0,360.9 641.0,360.8 642.0,360.7 643.0,360.5 644.0,360.3 645.0,360.1 646.0,359.6 647.0,359.1 648.0,358.7 649.0,358.3 650.0,358.0 651.0,357.7 652.0,357.4 653.0,357.1 654.0,356.9 655.0,356.6 656.0,356.4 657.0,356.1 658.0,355.9 659.0,355.7 660.0,355.5 661.0,355.3 662.0,355.1 663.0,354.8 664.0,354.6 665.0,354.4 666.0,354.2 667.0,354.0 668.0,353.8 669.0,353.6 670.0,353.4 671.0,353.2 672.0,353.0 673.0,352.8 674.0,352.6 675.0,352.4 676.0,352.2 677.0,352.1 678.0,351.9 679.0,351.8 680.0,351.6 681.0,351.5 682.0,351.4 683.0,351.3 684.0,351.2 685.0,351.1 686.0,351.0 687.0,350.9 688.0,350.9 689.0,350.8 690.0,350.8 691.0,350.7 692.0,350.7 693.0,350.6 694.0,350.6 695.0,350.5 696.0,350.5 697.0,350.4 698.0,350.3 699.0,350.3 700.0,350.2 701.0,350.1 702.0,350.0 703.0,349.9 704.0,349.9 705.0,349.8 706.0,349.7 707.0,349.6 708.0,349.4 709.0,349.3 710.0,349.2 711.0,349.1 712.0,349.0 713.0,348.9 714.0,348.8 715.0,348.7 716.0,348.6 717.0,348.5 718.0,348.4 719.0,348.3 720.0,348.2 721.0,348.1 722.0,348.0 723.0,347.9 724.0,347.8 725.0,347.8 726.0,347.7 727.0,347.6 728.0,347.5 729.0,347.4 730.0,347.3 731.0,347.2 732.0,347.2 733.0,347.1 734.0,347.0 735.0,346.9 736.0,346.9 737.0,346.8 738.0,346.7 739.0,346.6 740.0,346.6 741.0,346.5 742.0,346.4 743.0,346.3 744.0,346.2 745.0,346.1 746.0,346.1 747.0,346.0 748.0,345.9 749.0,345.8 750.0,345.8 751.0,345.7 752.0,345.6 753.0,345.6 754.0,345.6 755.0,345.5 756.0,345.5 757.0,345.5 758.0,345.5 759.0,345.5 760.0,345.5 761.0,345.5 762.0,345.5 763.0,345.5 764.0,345.5 765.0,345.5 766.0,345.5 767.0,345.6 768.0,345.6 769.0,345.6 770.0,345.6 771.0,345.6 772.0,345.6 773.0,345.7 774.0,345.7 775.0,345.7 776.0,345.7 777.0,345.8 778.0,345.8 779.0,345.9 780.0,346.2 781.0,346.6 782.0,347.0 783.0,347.5 784.0,348.1 785.0,348.9 786.0,349.8 787.0,350.6 788.0,351.3 789.0,351.6 790.0,351.6 791.0,351.1 792.0,350.3 793.0,349.4 794.0,348.7 795.0,348.3 796.0,348.4 797.0,348.7 798.0,349.2 799.0,349.7 800.0,350.1 801.0,350.2 802.0,349.9 803.0,349.1 804.0,348.1 805.0,347.1 806.0,346.2 807.0,345.6 808.0,345.5 809.0,345.8 810.0,346.4 811.0,347.2 812.0,348.0 813.0,348.8 814.0,349.5 815.0,350.0 816.0,350.2 817.0,350.1 818.0,349.8 819.0,349.4 820.0,349.0 821.0,348.5 822.0,348.1 823.0,347.9 824.0,347.8 825.0,347.8 826.0,347.8 827.0,347.8 828.0,347.8 829.0,347.8 830.0,347.8 831.0,347.5 832.0,347.2 833.0,346.7 834.0,346.1 835.0,345.5 836.0,345.0 837.0,344.4 838.0,344.0 839.0,343.6 840.0,343.2 841.0,342.8 842.0,342.4 843.0,342.0 844.0,341.6 845.0,341.3 846.0,340.9 847.0,340.7 848.0,340.4 849.0,340.3 850.0,340.1 851.0,340.1 852.0,340.0 853.0,339.9 854.0,339.8 855.0,339.8 856.0,339.7 857.0,339.7 858.0,339.6 859.0,339.6 860.0,339.5 861.0,339.4 862.0,339.4 863.0,339.3 864.0,339.2 865.0,339.1 866.0,339.1 867.0,339.0 868.0,338.9 869.0,338.8 870.0,338.7 871.0,338.7 872.0,338.6 873.0,338.5 874.0,338.5 875.0,338.4 876.0,338.4 877.0,338.3 878.0,338.3 879.0,338.3 880.0,338.2 881.0,338.2 882.0,338.2 883.0,338.2 884.0,338.1 885.0,338.1 886.0,338.1 887.0,338.1 888.0,338.1 889.0,338.0 890.0,338.0 891.0,338.0 892.0,338.0 893.0,338.0 894.0,338.0 895.0,337.9 896.0,337.9 897.0,337.9 898.0,337.9 899.0,337.9 900.0,337.9 901.0,337.9 902.0,337.8 903.0,337.8 904.0,337.8 905.0,337.8 906.0,337.8 907.0,337.7 908.0,337.7 909.0,337.7 910.0,337.7 911.0,337.6 912.0,337.6 913.0,337.6 914.0,337.6 915.0,337.5 916.0,337.5 917.0,337.5 918.0,337.5 919.0,337.5 920.0,337.4 921.0,337.4 922.0,337.4 923.0,337.4 924.0,337.4 925.0,337.4 926.0,337.4 927.0,337.4 928.0,337.4 929.0,337.4 930.0,337.4 931.0,337.4 932.0,337.4 933.0,337.4 934.0,337.4 935.0,337.4 936.0,337.4 937.0,337.3 938.0,337.2 939.0,337.0 940.0,336.8 941.0,336.7 942.0,336.5 943.0,336.3 944.0,336.1 945.0,336.0 946.0,335.9 947.0,335.7 948.0,335.6 949.0,335.5 950.0,335.4 951.0,335.3 952.0,335.2 953.0,335.1 954.0,335.0 955.0,334.9 956.0,334.8 957.0,334.7 958.0,334.6 959.0,334.5 960.0,334.4 961.0,334.3 962.0,334.2 963.0,334.1 964.0,334.0 965.0,333.9 966.0,333.8 967.0,333.7 968.0,333.6 969.0,333.5 970.0,333.4 971.0,333.3 972.0,333.2 973.0,333.1 974.0,333.0 975.0,332.9 976.0,332.8 977.0,332.7 978.0,332.6 979.0,332.5 980.0,332.4 981.0,332.2 982.0,332.1 983.0,332.0 984.0,331.9 985.0,331.8 986.0,331.7 987.0,331.5 988.0,331.4 989.0,331.3 990.0,331.2 991.0,331.1 992.0,331.1 993.0,331.0 994.0,330.9 995.0,330.8 996.0,330.8 997.0,330.8 998.0,330.7 999.0,330.7 1000.0,330.7 1001.0,330.7 1002.0,330.7 1003.0,330.8 1004.0,330.8 1005.0,330.9 1006.0,330.9 1007.0,330.9 1008.0,330.9 1009.0,330.8 1010.0,330.8 1011.0,330.7 1012.0,330.6 1013.0,330.5 1014.0,330.4 1015.0,330.2 1016.0,330.1 1017.0,329.9 1018.0,329.8 1019.0,329.6 1020.0,329.5 1021.0,329.3 1022.0,329.1 1023.0,329.0 1024.0,328.8 1025.0,328.6 1026.0,328.5 1027.0,328.3 1028.0,328.2 1029.0,328.1 1030.0,327.9 1031.0,327.8 1032.0,327.7 1033.0,327.6 1034.0,327.6 1035.0,327.5 1036.0,327.4 1037.0,327.3 1038.0,327.2 1039.0,327.1 1040.0,327.0 1041.0,326.9 1042.0,326.9 1043.0,326.8 1044.0,326.7 1045.0,326.6 1046.0,326.6 1047.0,326.5 1048.0,326.5 1049.0,326.4 1050.0,326.4 1051.0,326.4 1052.0,326.4 1053.0,326.4 1054.0,326.4 1055.0,326.4 1056.0,326.4 1057.0,326.5 1058.0,326.5 1059.0,326.5 1060.0,326.6 1061.0,326.6 1062.0,326.7 1063.0,326.7 1064.0,326.8 1065.0,327.4 1066.0,328.3 1067.0,329.5 1068.0,330.6 1069.0,332.2 1070.0,333.9 1071.0,335.3 1072.0,336.1 1073.0,336.0 1074.0,335.2 1075.0,333.9 1076.0,332.6 1077.0,331.4 1078.0,330.0 1079.0,328.5 1080.0,327.3 1081.0,327.0 1082.0,327.0 1083.0,327.1 1084.0,327.1 1085.0,327.2 1086.0,327.3 1087.0,327.5 1088.0,327.6 1089.0,327.8 1090.0,328.0 1091.0,328.3 1092.0,328.8 1093.0,329.3 1094.0,329.8 1095.0,330.4 1096.0,331.0 1097.0,331.7 1098.0,332.3 1099.0,333.1 1100.0,334.0 1101.0,334.9 1102.0,336.0 1103.0,337.1 1104.0,338.2 1105.0,339.4 1106.0,340.6 1107.0,341.8 1108.0,343.1 1109.0,344.5 1110.0,345.9 1111.0,347.4 1112.0,349.0 1113.0,350.7 1114.0,352.6 1115.0,354.6 1116.0,356.7 1117.0,358.8 1118.0,360.9 1119.0,362.9 1120.0,364.9 1121.0,367.0 1122.0,369.0 1123.0,371.0 1124.0,373.0 1125.0,374.9 1126.0,376.7 1127.0,378.6 1128.0,380.3 1129.0,381.8 1130.0,382.9 1131.0,384.0 1132.0,384.9 1133.0,385.3 1134.0,384.9 1135.0,383.8 1136.0,382.3 1137.0,380.7 1138.0,379.1 1139.0,377.3 1140.0,375.2 1141.0,373.1 1142.0,370.9 1143.0,368.8 1144.0,366.8 1145.0,364.6 1146.0,362.3 1147.0,360.1 1148.0,358.0 1149.0,356.1 1150.0,354.6 1151.0,353.4 1152.0,352.1 1153.0,351.0 1154.0,349.9 1155.0,349.2 1156.0,348.7 1157.0,348.6 1158.0,348.6 1159.0,348.6 1160.0,348.6 1161.0,348.6 1162.0,348.6 1163.0,348.6 1164.0,348.6 1165.0,348.6 1166.0,348.6 1167.0,348.6 1168.0,348.6 1169.0,348.6 1170.0,348.6 1171.0,348.7 1172.0,348.8 1173.0,349.0 1174.0,349.3 1175.0,349.5 1176.0,349.9 1177.0,350.2 1178.0,350.5 1179.0,350.9 1180.0,351.2 1181.0,351.4 1182.0,351.7 1183.0,351.8 1184.0,351.9 1185.0,351.9 1186.0,351.9 1187.0,351.9 1188.0,352.0 1189.0,352.0 1190.0,352.0 1191.0,352.1 1192.0,352.7 1193.0,353.8 1194.0,355.2 1195.0,356.6 1196.0,358.0 1197.0,359.4 1198.0,360.9 1199.0,362.5 1200.0,364.0 1201.0,365.4 1202.0,366.7 1203.0,368.1 1204.0,369.4 1205.0,370.9 1206.0,372.6 1207.0,374.6 1208.0,376.9 1209.0,379.4 1210.0,382.1 1211.0,384.8 1212.0,387.6 1213.0,390.2 1214.0,392.9 1215.0,395.6 1216.0,398.3 1217.0,401.1 1218.0,403.9 1219.0,406.9 1220.0,409.9 1221.0,412.9 1221.5,414.4 1222.0,415.9 1222.5,417.5 1223.0,419.1 1223.5,420.8 1224.0,422.5 1224.5,424.3 1225.0,426.2 1225.5,428.2 1226.0,430.2 1226.5,432.4 1227.0,434.6 1227.5,437.0 1228.0,439.4 1228.5,442.0 1229.0,444.6 1229.5,447.4 1230.0,450.3 1230.3,452.3 1230.7,454.4 1231.0,456.5 1231.3,458.7 1231.7,461.1 1232.0,463.5 1232.3,466.1 1232.7,468.9 1233.0,471.8 1233.2,474.2 1233.5,476.6 1233.8,479.4 1234.0,482.6 1234.2,485.3 1234.4,488.1 1234.6,491.0 1234.8,494.0 1235.0,496.9 1235.2,499.8 1235.4,502.6 1235.6,505.3 1235.8,507.8 1236.0,510.4 1236.2,514.1 1236.5,517.6 1236.8,520.5 1237.0,522.0 1237.3,521.6 1237.7,518.9 1238.0,514.6 1238.2,511.7 1238.4,508.5 1238.6,505.4 1238.8,502.4 1239.0,499.7 1239.2,497.5 1239.3,495.1 1239.5,492.5 1239.7,489.8 1239.8,487.1 1240.0,484.3 1240.2,481.1 1240.4,478.0 1240.6,475.1 1240.8,472.5 1241.0,470.4 1241.5,467.2 1242.0,465.4 1243.0,462.7 1244.0,462.0 1245.0,462.9 1246.0,464.4 1247.0,466.0 1248.0,467.8 1249.0,469.9 1250.0,471.7 1251.0,472.4 1252.0,471.0 1252.5,469.6 1253.0,467.8 1253.5,465.8 1254.0,463.9 1254.5,462.1 1255.0,460.1 1255.5,457.9 1256.0,455.6 1256.5,453.2 1257.0,450.7 1257.5,448.1 1258.0,445.6 1258.5,443.1 1259.0,440.8 1259.5,438.4 1260.0,436.1 1260.5,433.7 1261.0,431.3 1261.5,429.0 1262.0,426.6 1262.5,424.3 1263.0,422.0 1263.5,419.7 1264.0,417.5 1264.5,415.4 1265.0,413.3 1265.5,411.4 1266.0,409.5 1266.5,407.7 1267.0,405.9 1267.5,404.1 1268.0,402.3 1268.5,400.6 1269.0,398.9 1269.5,397.2 1270.0,395.6 1270.5,394.1 1271.0,392.6 1272.0,389.7 1273.0,387.0 1274.0,384.5 1275.0,382.1 1276.0,379.9 1277.0,377.8 1278.0,375.8 1279.0,373.8 1280.0,372.0 1281.0,370.2 1282.0,368.4 1283.0,366.7 1284.0,365.1 1285.0,363.4 1286.0,361.8 1287.0,360.2 1288.0,358.7 1289.0,357.2 1290.0,355.8 1291.0,354.4 1292.0,353.1 1293.0,351.9 1294.0,350.7 1295.0,349.7 1296.0,348.6 1297.0,347.6 1298.0,346.6 1299.0,345.6 1300.0,344.7 1301.0,343.8 1302.0,343.0 1303.0,342.2 1304.0,341.4 1305.0,340.7 1306.0,340.0 1307.0,339.3 1308.0,338.7 1309.0,338.0 1310.0,337.4 1311.0,336.8 1312.0,336.3 1313.0,335.7 1314.0,335.2 1315.0,334.7 1316.0,334.2 1317.0,333.7 1318.0,333.3 1319.0,332.9 1320.0,332.5 1321.0,332.1 1322.0,331.8 1323.0,331.5 1324.0,331.1 1325.0,330.8 1326.0,330.4 1327.0,330.1 1328.0,329.8 1329.0,329.5 1330.0,329.3 1331.0,329.1 1332.0,328.9 1333.0,328.8 1334.0,328.7 1335.0,328.7 1336.0,328.7 1337.0,328.7 1338.0,328.7 1339.0,328.7 1340.0,328.7 1341.0,328.7 1342.0,328.7 1343.0,328.7 1344.0,328.6 1345.0,328.6 1346.0,328.6 1347.0,328.5 1348.0,328.5 1349.0,328.4 1350.0,328.4 1351.0,328.3 1352.0,328.3 1353.0,328.2 1354.0,328.1 1355.0,327.9 1356.0,327.7 1357.0,327.5 1358.0,327.3 1359.0,327.1 1360.0,326.8 1361.0,326.6 1362.0,326.4 1363.0,326.3 1364.0,326.1 1365.0,326.1 1366.0,326.0 1367.0,326.0 1368.0,325.9 1369.0,325.9 1370.0,325.9 1371.0,325.8 1372.0,325.8 1373.0,325.8 1374.0,325.9 1375.0,326.3 1376.0,326.9 1377.0,327.6 1378.0,328.3 1379.0,328.8 1380.0,329.2 1381.0,329.3 1382.0,329.2 1383.0,328.9 1384.0,328.5 1385.0,328.1 1386.0,327.7 1387.0,327.4 1388.0,327.1 1389.0,327.0 1390.0,326.8 1391.0,326.7 1392.0,326.5 1393.0,326.4 1394.0,326.3 1395.0,326.2 1396.0,326.1 1397.0,326.1 1398.0,326.1 1399.0,326.1 1400.0,326.1 1401.0,326.1 1402.0,326.2 1403.0,326.2 1404.0,326.3 1405.0,326.3 1406.0,326.4 1407.0,326.5 1408.0,326.5 1409.0,326.6 1410.0,326.7 1411.0,326.8 1412.0,326.8 1413.0,326.9 1414.0,327.0 1415.0,327.1 1416.0,327.2 1417.0,327.3 1418.0,327.4 1419.0,327.5 1420.0,327.7 1421.0,327.8 1422.0,328.0 1423.0,328.1 1424.0,328.3 1425.0,328.5 1426.0,328.7 1427.0,328.9 1428.0,329.1 1429.0,329.3 1430.0,329.5 1431.0,329.7 1432.0,329.9 1433.0,330.1 1434.0,330.4 1435.0,330.6 1436.0,330.8 1437.0,331.0 1438.0,331.3 1439.0,331.5 1440.0,331.8 1441.0,332.1 1442.0,332.4 1443.0,332.6 1444.0,333.0 1445.0,333.3 1446.0,333.6 1447.0,333.9 1448.0,334.2 1449.0,334.6 1450.0,334.9 1451.0,335.2 1452.0,335.6 1453.0,335.9 1454.0,336.2 1455.0,336.5 1456.0,336.8 1457.0,337.1 1458.0,337.4 1459.0,337.7 1460.0,338.0 1461.0,338.3 1462.0,338.7 1463.0,339.2 1464.0,339.7 1465.0,340.2 1466.0,340.8 1467.0,341.6 1468.0,342.7 1469.0,344.2 1470.0,346.2 1470.5,347.6 1471.0,349.7 1471.5,352.3 1472.0,354.9 1472.5,357.1 1473.0,358.8 1473.5,360.4 1474.0,362.0 1475.0,364.3 1476.0,364.1 1476.5,362.8 1477.0,361.1 1477.5,359.2 1478.0,357.4 1478.5,355.7 1479.0,353.7 1479.5,351.6 1480.0,349.6 1481.0,347.1 1482.0,346.9 1483.0,347.2 1484.0,347.5 1485.0,347.9 1486.0,348.5 1487.0,349.1 1488.0,349.6 1489.0,350.2 1490.0,350.8 1491.0,351.3 1492.0,351.8 1493.0,352.4 1494.0,353.0 1495.0,353.6 1496.0,354.2 1497.0,354.8 1498.0,355.5 1499.0,356.1 1500.0,356.7 1501.0,357.3 1502.0,357.9 1503.0,358.5 1504.0,359.1 1505.0,359.8 1506.0,360.6 1507.0,361.5 1508.0,362.5 1509.0,363.6 1510.0,364.8 1511.0,366.1 1512.0,367.4 1513.0,368.7 1514.0,370.0 1515.0,371.5 1516.0,373.1 1517.0,374.6 1518.0,376.1 1519.0,377.5 1520.0,378.7 1521.0,379.8 1522.0,380.8 1523.0,381.8 1524.0,382.7 1525.0,383.7 1526.0,384.5 1527.0,385.4 1528.0,386.3 1529.0,387.2 1530.0,388.0 1531.0,388.8 1532.0,389.5 1533.0,390.2 1534.0,390.8 1535.0,391.3 1536.0,391.7 1537.0,392.2 1538.0,392.5 1539.0,392.9 1540.0,393.3 1541.0,393.6 1542.0,393.9 1543.0,394.2 1544.0,394.5 1545.0,394.8 1546.0,395.2 1547.0,395.5 1548.0,395.8 1549.0,396.1 1550.0,396.3 1551.0,396.6 1552.0,396.9 1553.0,397.2 1554.0,397.5 1555.0,397.8 1556.0,398.1 1557.0,398.4 1558.0,398.8 1559.0,399.1 1560.0,399.5 1561.0,399.8 1562.0,400.1 1563.0,400.5 1564.0,400.8 1565.0,401.2 1566.0,401.5 1567.0,401.8 1568.0,402.1 1569.0,402.5 1570.0,402.9 1571.0,403.3 1572.0,403.7 1573.0,404.1 1574.0,404.4 1575.0,404.7 1576.0,404.9 1577.0,405.1 1578.0,405.2 1579.0,405.2 1580.0,405.2 1581.0,405.2 1582.0,405.2 1583.0,405.2 1584.0,405.2 1585.0,405.2 1586.0,405.2 1587.0,405.2 1588.0,405.2 1589.0,405.2 1590.0,405.1 1591.0,404.9 1592.0,404.7 1593.0,404.5 1594.0,404.3 1595.0,404.1 1596.0,403.9 1597.0,403.8 1598.0,403.7 1599.0,403.7 1600.0,403.9 1601.0,404.1 1602.0,404.4 1603.0,404.8 1604.0,405.2 1605.0,405.6 1606.0,406.0 1607.0,406.4 1608.0,406.7 1609.0,407.0 1610.0,407.4 1611.0,407.7 1612.0,408.1 1613.0,408.5 1614.0,408.9 1615.0,409.2 1616.0,409.6 1617.0,409.9 1618.0,410.2 1619.0,410.4 1620.0,410.7 1621.0,410.9 1622.0,411.1 1623.0,411.3 1624.0,411.5 1625.0,411.7 1626.0,411.9 1627.0,412.0 1628.0,412.2 1629.0,412.3 1630.0,412.4 1631.0,412.5 1632.0,412.5 1633.0,412.5 1634.0,412.3 1635.0,412.0 1636.0,411.6 1637.0,411.1 1638.0,410.6 1639.0,410.1 1640.0,409.5 1641.0,409.1 1642.0,408.7 1643.0,408.4 1644.0,408.2 1645.0,408.0 1646.0,407.8 1647.0,407.6 1648.0,407.4 1649.0,407.1 1650.0,406.8 1651.0,406.3 1652.0,405.5 1653.0,404.5 1654.0,403.4 1655.0,402.4 1656.0,401.5 1657.0,400.8 1658.0,400.3 1659.0,400.0 1660.0,399.6 1661.0,399.3 1662.0,398.9 1663.0,398.6 1664.0,398.3 1665.0,398.0"/>
<path stroke="#ff0000" d="M110.0,573.5 L111.0,573.5 112.0,573.5 113.0,573.5 114.0,573.5 115.0,573.5 116.0,573.5 117.0,573.5 118.0,573.5 119.0,573.5 120.0,573.4 121.0,573.4 122.0,573.4 123.0,573.4 124.0,573.4 125.0,573.3 126.0,573.3 127.0,573.3 128.0,573.3 129.0,573.3 130.0,573.3 131.0,573.3 132.0,573.3 133.0,573.3 134.0,573.3 135.0,573.3 136.0,573.3 137.0,573.3 138.0,573.3 139.0,573.4 140.0,573.4 141.0,573.4 142.0,573.4 143.0,573.4 144.0,573.4 145.0,573.4 146.0,573.4 147.0,573.5 148.0,573.5 149.0,573.5 150.0,573.5 151.0,573.5 152.0,573.5 153.0,573.5 154.0,573.6 155.0,573.6 156.0,573.6 157.0,573.6 158.0,573.6 159.0,573.6 160.0,573.7 161.0,573.7 162.0,573.7 163.0,573.7 164.0,573.7 165.0,573.8 166.0,573.8 167.0,573.8 168.0,573.8 169.0,573.8 170.0,573.8 171.0,573.8 172.0,573.8 173.0,573.8 174.0,573.7 175.0,573.6 176.0,573.6 177.0,573.5 178.0,573.4 179.0,573.3 180.0,573.1 181.0,573.0 182.0,572.9 183.0,572.8 184.0,572.6 185.0,572.5 186.0,572.3 187.0,572.2 188.0,572.1 189.0,571.9 190.0,571.8 191.0,571.7 192.0,571.6 193.0,571.4 194.0,571.3 195.0,571.1 196.0,570.9 197.0,570.7 198.0,570.6 199.0,570.4 200.0,570.2 201.0,570.1 202.0,570.0 203.0,569.9 204.0,569.8 205.0,569.7 206.0,569.7 207.0,569.7 208.0,569.7 209.0,569.7 210.0,569.7 211.0,569.7 212.0,569.8 213.0,570.0 214.0,570.4 215.0,570.9 216.0,571.3 217.0,571.7 218.0,572.1 219.0,572.2 220.0,572.1 221.0,571.9 222.0,571.5 223.0,571.0 224.0,570.4 225.0,569.8 226.0,569.1 227.0,568.5 228.0,567.9 229.0,567.4 230.0,567.0 231.0,566.7 232.0,566.6 233.0,566.6 234.0,566.5 235.0,566.4 236.0,566.4 237.0,566.3 238.0,566.3 239.0,566.2 240.0,566.2 241.0,566.2 242.0,566.2 243.0,566.3 244.0,566.5 245.0,566.8 246.0,567.1 247.0,567.4 248.0,567.7 249.0,568.0 250.0,568.2 251.0,568.4 252.0,568.6 253.0,568.7 254.0,568.8 255.0,568.8 256.0,568.6 257.0,568.4 258.0,568.3 259.0,568.2 260.0,569.2 261.0,571.1 262.0,573.3 263.0,575.2 264.0,576.4 265.0,577.4 266.0,578.4 267.0,579.4 268.0,580.6 269.0,582.0 270.0,583.8 271.0,585.8 272.0,588.0 273.0,590.3 274.0,592.6 275.0,594.8 276.0,597.1 277.0,599.4 278.0,601.8 279.0,604.2 280.0,606.6 281.0,608.9 282.0,611.3 283.0,613.7 284.0,616.0 285.0,618.4 286.0,620.8 287.0,623.0 288.0,625.3 289.0,627.5 290.0,629.7 291.0,631.8 292.0,633.9 293.0,636.0 294.0,638.1 295.0,640.2 296.0,642.3 297.0,644.4 298.0,646.4 299.0,648.4 300.0,650.2 301.0,651.9 302.0,653.6 303.0,655.2 304.0,656.8 305.0,658.3 306.0,659.8 307.0,661.2 308.0,662.6 309.0,663.9 310.0,665.1 311.0,666.4 312.0,667.5 313.0,668.7 314.0,669.8 315.0,670.9 316.0,671.9 317.0,673.0 318.0,674.0 319.0,675.0 320.0,676.0 321.0,677.0 322.0,678.0 323.0,678.9 324.0,679.9 325.0,680.8 326.0,681.7 327.0,682.6 328.0,683.5 329.0,684.3 330.0,685.1 331.0,685.9 332.0,686.7 333.0,687.4 334.0,688.2 335.0,688.9 336.0,689.6 337.0,690.3 338.0,691.0 339.0,691.7 340.0,692.3 341.0,692.9 342.0,693.5 343.0,694.1 344.0,694.6 345.0,695.1 346.0,695.6 347.0,696.1 348.0,696.6 349.0,697.1 350.0,697.5 351.0,698.0 352.0,698.4 353.0,698.8 354.0,699.2 355.0,699.5 356.0,699.8 357.0,700.1 358.0,700.4 359.0,700.7 360.0,700.9 361.0,701.2 362.0,701.4 363.0,701.7 364.0,701.9 365.0,702.0 366.0,702.2 367.0,702.3 368.0,702.3 369.0,702.3 370.0,702.3 371.0,702.2 372.0,702.1 373.0,702.0 374.0,701.9 375.0,701.8 376.0,701.7 377.0,701.5 378.0,701.4 379.0,701.2 380.0,701.0 381.0,700.8 382.0,700.5 383.0,700.1 384.0,699.7 385.0,699.3 386.0,698.8 387.0,698.3 388.0,697.9 389.0,697.4 390.0,697.0 391.0,696.6 392.0,696.1 393.0,695.7 394.0,695.2 395.0,694.7 396.0,694.2 397.0,693.8 398.0,693.3 399.0,692.9 400.0,692.5 401.0,692.1 402.0,691.7 403.0,691.4 404.0,691.0 405.0,690.7 406.0,690.4 407.0,690.0 408.0,689.7 409.0,689.4 410.0,689.0 411.0,688.7 412.0,688.4 413.0,688.1 414.0,687.8 415.0,687.4 416.0,687.1 417.0,686.8 418.0,686.4 419.0,686.1 420.0,685.8 421.0,685.5 422.0,685.1 423.0,684.8 424.0,684.5 425.0,684.2 426.0,683.8 427.0,683.5 428.0,683.2 429.0,682.8 430.0,682.5 431.0,682.2 432.0,681.8 433.0,681.5 434.0,681.1 435.0,680.8 436.0,680.4 437.0,680.1 438.0,679.7 439.0,679.4 440.0,679.0 441.0,678.7 442.0,678.3 443.0,677.9 444.0,677.6 445.0,677.2 446.0,676.8 447.0,676.4 448.0,676.1 449.0,675.7 450.0,675.3 451.0,674.9 452.0,674.5 453.0,674.0 454.0,673.6 455.0,673.2 456.0,672.7 457.0,672.3 458.0,671.8 459.0,671.3 460.0,670.8 461.0,670.4 462.0,669.9 463.0,669.4 464.0,668.9 465.0,668.4 466.0,668.0 467.0,667.5 468.0,667.0 469.0,666.5 470.0,666.0 471.0,665.5 472.0,665.0 473.0,664.5 474.0,664.0 475.0,663.5 476.0,663.0 477.0,662.5 478.0,662.0 479.0,661.5 480.0,661.0 481.0,660.5 482.0,660.0 483.0,659.5 484.0,659.0 485.0,658.5 486.0,658.0 487.0,657.5 488.0,657.1 489.0,656.6 490.0,656.1 491.0,655.6 492.0,655.1 493.0,654.6 494.0,654.1 495.0,653.7 496.0,653.2 497.0,652.7 498.0,652.2 499.0,651.8 500.0,651.3 501.0,650.8 502.0,650.4 503.0,649.9 504.0,649.5 505.0,649.1 506.0,648.6 507.0,648.2 508.0,647.8 509.0,647.4 510.0,647.0 511.0,646.6 512.0,646.2 513.0,645.8 514.0,645.4 515.0,645.0 516.0,644.6 517.0,644.2 518.0,643.8 519.0,643.4 520.0,643.1 521.0,642.7 522.0,642.3 523.0,641.9 524.0,641.5 525.0,641.2 526.0,640.8 527.0,640.4 528.0,640.0 529.0,639.6 530.0,639.3 531.0,638.9 532.0,638.5 533.0,638.2 534.0,637.8 535.0,637.4 536.0,637.1 537.0,636.7 538.0,636.4 539.0,636.0 540.0,635.7 541.0,635.4 542.0,635.0 543.0,634.7 544.0,634.3 545.0,633.9 546.0,633.6 547.0,633.2 548.0,632.8 549.0,632.5 550.0,632.1 551.0,631.8 552.0,631.5 553.0,631.2 554.0,630.9 555.0,630.7 556.0,630.5 557.0,630.3 558.0,630.2 559.0,630.1 560.0,630.0 561.0,629.9 562.0,629.8 563.0,629.6 564.0,629.4 565.0,629.2 566.0,628.9 567.0,628.7 568.0,628.4 569.0,628.1 570.0,627.8 571.0,627.5 572.0,627.2 573.0,626.9 574.0,626.6 575.0,626.3 576.0,626.0 577.0,625.7 578.0,625.4 579.0,625.1 580.0,624.8 581.0,624.5 582.0,624.2 583.0,623.9 584.0,623.6 585.0,623.3 586.0,622.9 587.0,622.6 588.0,622.3 589.0,622.0 590.0,621.7 591.0,621.4 592.0,621.1 593.0,620.9 594.0,620.6 595.0,620.4 596.0,620.1 597.0,619.9 598.0,619.7 599.0,619.4 600.0,619.2 601.0,619.0 602.0,618.7 603.0,618.5 604.0,618.3 605.0,618.1 606.0,617.9 607.0,617.7 608.0,617.5 609.0,617.3 610.0,617.1 611.0,616.9 612.0,616.7 613.0,616.5 614.0,616.3 615.0,616.1 616.0,615.9 617.0,615.8 618.0,615.6 619.0,615.4 620.0,615.2 621.0,615.1 622.0,614.9 623.0,614.7 624.0,614.6 625.0,614.4 626.0,614.3 627.0,614.2 628.0,614.0 629.0,613.9 630.0,613.7 631.0,613.6 632.0,613.5 633.0,613.3 634.0,613.2 635.0,613.1 636.0,613.0 637.0,613.0 638.0,612.9 639.0,612.9 640.0,612.9 641.0,613.0 642.0,613.1 643.0,613.2 644.0,613.3 645.0,613.2 646.0,612.9 647.0,612.5 648.0,611.9 649.0,611.3 650.0,610.8 651.0,610.3 652.0,609.9 653.0,609.6 654.0,609.3 655.0,609.0 656.0,608.7 657.0,608.4 658.0,608.2 659.0,607.9 660.0,607.7 661.0,607.4 662.0,607.2 663.0,607.0 664.0,606.7 665.0,606.5 666.0,606.3 667.0,606.1 668.0,605.9 669.0,605.6 670.0,605.4 671.0,605.2 672.0,605.0 673.0,604.8 674.0,604.6 675.0,604.4 676.0,604.2 677.0,604.0 678.0,603.8 679.0,603.7 680.0,603.5 681.0,603.3 682.0,603.1 683.0,602.9 684.0,602.7 685.0,602.5 686.0,602.3 687.0,602.0 688.0,601.8 689.0,601.6 690.0,601.5 691.0,601.4 692.0,601.4 693.0,601.3 694.0,601.3 695.0,601.3 696.0,601.2 697.0,601.2 698.0,601.2 699.0,601.1 700.0,601.1 701.0,601.1 702.0,601.1 703.0,601.1 704.0,601.0 705.0,601.0 706.0,601.0 707.0,600.9 708.0,600.9 709.0,600.9 710.0,600.8 711.0,600.7 712.0,600.7 713.0,600.6 714.0,600.4 715.0,600.3 716.0,600.2 717.0,600.0 718.0,599.9 719.0,599.7 720.0,599.5 721.0,599.3 722.0,599.1 723.0,598.9 724.0,598.8 725.0,598.6 726.0,598.4 727.0,598.2 728.0,598.1 729.0,597.9 730.0,597.8 731.0,597.6 732.0,597.5 733.0,597.4 734.0,597.2 735.0,597.1 736.0,597.0 737.0,596.8 738.0,596.7 739.0,596.6 740.0,596.5 741.0,596.3 742.0,596.2 743.0,596.1 744.0,596.0 745.0,595.9 746.0,595.8 747.0,595.7 748.0,595.6 749.0,595.5 750.0,595.4 751.0,595.4 752.0,595.3 753.0,595.2 754.0,595.2 755.0,595.1 756.0,595.0 757.0,595.0 758.0,594.9 759.0,594.8 760.0,594.8 761.0,594.7 762.0,594.7 763.0,594.6 764.0,594.6 765.0,594.5 766.0,594.5 767.0,594.4 768.0,594.4 769.0,594.3 770.0,594.3 771.0,594.3 772.0,594.2 773.0,594.2 774.0,594.2 775.0,594.2 776.0,594.2 777.0,594.2 778.0,594.4 779.0,594.6 780.0,594.8 781.0,595.1 782.0,595.4 783.0,595.7 784.0,596.2 785.0,596.9 786.0,597.7 787.0,598.5 788.0,599.2 789.0,599.6 790.0,599.6 791.0,599.1 792.0,598.1 793.0,597.1 794.0,596.2 795.0,595.7 796.0,595.7 797.0,595.9 798.0,596.2 799.0,596.4 800.0,596.6 801.0,596.7 802.0,596.6 803.0,596.1 804.0,595.5 805.0,594.8 806.0,594.1 807.0,593.5 808.0,593.2 809.0,593.3 810.0,593.8 811.0,594.5 812.0,595.3 813.0,596.1 814.0,596.8 815.0,597.2 816.0,597.2 817.0,596.9 818.0,596.5 819.0,595.9 820.0,595.3 821.0,594.7 822.0,594.2 823.0,593.8 824.0,593.6 825.0,593.5 826.0,593.3 827.0,593.2 828.0,593.2 829.0,593.1 830.0,592.9 831.0,592.8 832.0,592.6 833.0,592.3 834.0,591.9 835.0,591.3 836.0,590.8 837.0,590.2 838.0,589.6 839.0,589.1 840.0,588.6 841.0,588.3 842.0,588.0 843.0,587.9 844.0,587.7 845.0,587.6 846.0,587.4 847.0,587.3 848.0,587.2 849.0,587.0 850.0,586.9 851.0,586.8 852.0,586.7 853.0,586.6 854.0,586.6 855.0,586.5 856.0,586.4 857.0,586.3 858.0,586.3 859.0,586.2 860.0,586.2 861.0,586.2 862.0,586.1 863.0,586.1 864.0,586.1 865.0,586.0 866.0,586.0 867.0,586.0 868.0,586.0 869.0,585.9 870.0,585.9 871.0,585.9 872.0,585.9 873.0,585.9 874.0,585.8 875.0,585.8 876.0,585.8 877.0,585.8 878.0,585.8 879.0,585.7 880.0,585.7 881.0,585.7 882.0,585.7 883.0,585.6 884.0,585.6 885.0,585.6 886.0,585.5 887.0,585.5 888.0,585.4 889.0,585.4 890.0,585.3 891.0,585.3 892.0,585.2 893.0,585.1 894.0,585.1 895.0,585.0 896.0,584.9 897.0,584.9 898.0,584.8 899.0,584.7 900.0,584.7 901.0,584.6 902.0,584.5 903.0,584.5 904.0,584.4 905.0,584.4 906.0,584.3 907.0,584.2 908.0,584.2 909.0,584.1 910.0,584.0 911.0,584.0 912.0,583.9 913.0,583.8 914.0,583.8 915.0,583.7 916.0,583.6 917.0,583.5 918.0,583.5 919.0,583.4 920.0,583.3 921.0,583.3 922.0,583.2 923.0,583.2 924.0,583.1 925.0,583.1 926.0,583.0 927.0,583.0 928.0,583.0 929.0,583.0 930.0,583.1 931.0,583.2 932.0,583.4 933.0,583.6 934.0,583.6 935.0,583.6 936.0,583.5 937.0,583.4 938.0,583.3 939.0,583.2 940.0,583.0 941.0,582.8 942.0,582.7 943.0,582.5 944.0,582.3 945.0,582.1 946.0,581.9 947.0,581.7 948.0,581.6 949.0,581.4 950.0,581.3 951.0,581.2 952.0,581.0 953.0,580.9 954.0,580.8 955.0,580.7 956.0,580.5 957.0,580.4 958.0,580.3 959.0,580.2 960.0,580.0 961.0,579.9 962.0,579.8 963.0,579.7 964.0,579.6 965.0,579.4 966.0,579.3 967.0,579.2 968.0,579.1 969.0,579.0 970.0,578.9 971.0,578.7 972.0,578.6 973.0,578.5 974.0,578.4 975.0,578.3 976.0,578.2 977.0,578.0 978.0,577.9 979.0,577.8 980.0,577.7 981.0,577.6 982.0,577.4 983.0,577.3 984.0,577.2 985.0,577.1 986.0,577.0 987.0,576.9 988.0,576.8 989.0,576.6 990.0,576.5 991.0,576.4 992.0,576.3 993.0,576.2 994.0,576.1 995.0,576.0 996.0,575.9 997.0,575.7 998.0,575.6 999.0,575.5 1000.0,575.4 1001.0,575.3 1002.0,575.1 1003.0,575.0 1004.0,574.9 1005.0,574.8 1006.0,574.7 1007.0,574.5 1008.0,574.4 1009.0,574.3 1010.0,574.1 1011.0,574.0 1012.0,573.8 1013.0,573.7 1014.0,573.5 1015.0,573.4 1016.0,573.2 1017.0,573.1 1018.0,572.9 1019.0,572.7 1020.0,572.6 1021.0,572.4 1022.0,572.2 1023.0,572.1 1024.0,571.9 1025.0,571.8 1026.0,571.6 1027.0,571.5 1028.0,571.3 1029.0,571.2 1030.0,571.0 1031.0,570.9 1032.0,570.8 1033.0,570.6 1034.0,570.5 1035.0,570.4 1036.0,570.2 1037.0,570.1 1038.0,570.0 1039.0,569.8 1040.0,569.7 1041.0,569.5 1042.0,569.4 1043.0,569.3 1044.0,569.2 1045.0,569.1 1046.0,569.0 1047.0,568.9 1048.0,568.8 1049.0,568.7 1050.0,568.7 1051.0,568.6 1052.0,568.6 1053.0,568.6 1054.0,568.6 1055.0,568.6 1056.0,568.6 1057.0,568.7 1058.0,568.7 1059.0,568.7 1060.0,568.8 1061.0,568.8 1062.0,568.9 1063.0,568.9 1064.0,569.0 1065.0,569.5 1066.0,570.4 1067.0,571.5 1068.0,572.5 1069.0,573.9 1070.0,575.4 1071.0,576.7 1072.0,577.5 1073.0,577.3 1074.0,576.6 1075.0,575.6 1076.0,574.4 1077.0,573.4 1078.0,572.2 1079.0,570.9 1080.0,569.9 1081.0,569.6 1082.0,569.6 1083.0,569.6 1084.0,569.6 1085.0,569.6 1086.0,569.6 1087.0,569.6 1088.0,569.6 1089.0,569.6 1090.0,569.7 1091.0,569.9 1092.0,570.2 1093.0,570.6 1094.0,571.0 1095.0,571.5 1096.0,572.0 1097.0,572.5 1098.0,573.0 1099.0,573.6 1100.0,574.3 1101.0,575.1 1102.0,575.9 1103.0,576.8 1104.0,577.8 1105.0,578.8 1106.0,579.8 1107.0,580.9 1108.0,582.1 1109.0,583.4 1110.0,584.8 1111.0,586.2 1112.0,587.7 1113.0,589.3 1114.0,591.0 1115.0,592.8 1116.0,594.7 1117.0,596.6 1118.0,598.4 1119.0,600.2 1120.0,602.0 1121.0,603.9 1122.0,605.7 1123.0,607.5 1124.0,609.2 1125.0,611.0 1126.0,612.7 1127.0,614.6 1128.0,616.3 1129.0,617.8 1130.0,618.9 1131.0,620.0 1132.0,620.9 1133.0,621.3 1134.0,620.9 1135.0,619.7 1136.0,618.2 1137.0,616.7 1138.0,615.2 1139.0,613.6 1140.0,611.8 1141.0,610.0 1142.0,608.1 1143.0,606.1 1144.0,604.2 1145.0,602.1 1146.0,599.9 1147.0,597.6 1148.0,595.4 1149.0,593.5 1150.0,592.0 1151.0,590.8 1152.0,589.6 1153.0,588.5 1154.0,587.5 1155.0,586.8 1156.0,586.2 1157.0,585.9 1158.0,585.8 1159.0,585.6 1160.0,585.4 1161.0,585.3 1162.0,585.2 1163.0,585.1 1164.0,585.0 1165.0,584.9 1166.0,584.8 1167.0,584.8 1168.0,584.7 1169.0,584.7 1170.0,584.7 1171.0,584.7 1172.0,584.7 1173.0,584.8 1174.0,584.8 1175.0,584.8 1176.0,584.9 1177.0,584.9 1178.0,585.0 1179.0,585.0 1180.0,585.1 1181.0,585.2 1182.0,585.2 1183.0,585.3 1184.0,585.3 1185.0,585.3 1186.0,585.4 1187.0,585.4 1188.0,585.4 1189.0,585.4 1190.0,585.5 1191.0,585.7 1192.0,586.3 1193.0,587.2 1194.0,588.3 1195.0,589.5 1196.0,590.7 1197.0,592.1 1198.0,593.7 1199.0,595.4 1200.0,597.0 1201.0,598.5 1202.0,600.0 1203.0,601.4 1204.0,602.9 1205.0,604.6 1206.0,606.4 1207.0,608.6 1208.0,611.1 1209.0,614.0 1210.0,616.9 1210.5,618.4 1211.0,620.0 1212.0,622.9 1213.0,625.7 1214.0,628.4 1215.0,631.0 1216.0,633.7 1217.0,636.5 1218.0,639.3 1219.0,642.2 1220.0,645.2 1221.0,648.2 1221.5,649.7 1222.0,651.3 1222.5,652.8 1223.0,654.5 1223.5,656.2 1224.0,657.9 1224.5,659.7 1225.0,661.6 1225.5,663.6 1226.0,665.6 1226.5,667.8 1227.0,670.0 1227.5,672.3 1228.0,674.7 1228.5,677.2 1229.0,679.9 1229.5,682.7 1230.0,685.7 1230.3,687.7 1230.7,689.9 1231.0,692.2 1231.3,694.6 1231.7,697.1 1232.0,699.8 1232.3,702.6 1232.7,705.5 1233.0,708.7 1233.2,711.1 1233.5,713.6 1233.8,716.4 1234.0,719.4 1234.2,721.9 1234.4,724.6 1234.6,727.3 1234.8,730.1 1235.0,733.0 1235.2,735.4 1235.3,737.8 1235.5,740.3 1235.7,742.7 1235.8,745.2 1236.0,748.1 1236.1,750.8 1236.3,753.8 1236.4,756.9 1236.6,759.9 1236.7,762.8 1236.9,765.3 1237.0,767.5 1238.0,767.8 1238.2,765.5 1238.5,762.7 1238.8,759.5 1239.0,756.0 1239.2,753.1 1239.4,750.2 1239.6,747.4 1239.8,744.7 1240.0,741.8 1240.1,739.4 1240.3,736.8 1240.4,734.1 1240.6,731.3 1240.7,728.5 1240.9,725.8 1241.0,723.2 1241.2,719.1 1241.5,715.9 1241.8,713.9 1242.0,712.4 1242.5,709.7 1243.0,707.6 1244.0,706.2 1245.0,707.2 1246.0,709.0 1247.0,711.0 1248.0,713.6 1248.5,715.3 1249.0,717.1 1249.5,718.9 1250.0,720.6 1251.0,723.2 1252.0,723.8 1253.0,722.1 1253.5,720.5 1254.0,718.7 1254.5,716.6 1255.0,714.6 1255.5,712.4 1256.0,709.6 1256.3,707.5 1256.7,705.3 1257.0,702.9 1257.3,700.5 1257.7,698.1 1258.0,695.7 1258.3,693.3 1258.7,691.1 1259.0,689.1 1259.5,686.2 1260.0,683.5 1260.5,680.7 1261.0,678.0 1261.5,675.4 1262.0,672.8 1262.5,670.3 1263.0,667.8 1263.5,665.4 1264.0,663.0 1264.5,660.8 1265.0,658.5 1265.5,656.4 1266.0,654.3 1266.5,652.2 1267.0,650.2 1267.5,648.2 1268.0,646.3 1268.5,644.4 1269.0,642.5 1269.5,640.7 1270.0,638.9 1270.5,637.1 1271.0,635.4 1271.5,633.8 1272.0,632.1 1272.5,630.5 1273.0,629.0 1274.0,626.0 1275.0,623.1 1276.0,620.3 1277.0,617.6 1278.0,615.0 1279.0,612.5 1280.0,610.1 1281.0,607.8 1282.0,605.7 1283.0,603.8 1284.0,602.0 1285.0,600.2 1286.0,598.5 1287.0,596.9 1288.0,595.4 1289.0,593.9 1290.0,592.5 1291.0,591.2 1292.0,590.0 1293.0,588.8 1294.0,587.7 1295.0,586.7 1296.0,585.7 1297.0,584.8 1298.0,583.8 1299.0,583.0 1300.0,582.1 1301.0,581.3 1302.0,580.5 1303.0,579.8 1304.0,579.0 1305.0,578.4 1306.0,577.7 1307.0,577.1 1308.0,576.6 1309.0,576.0 1310.0,575.5 1311.0,575.0 1312.0,574.5 1313.0,574.0 1314.0,573.5 1315.0,573.0 1316.0,572.5 1317.0,572.0 1318.0,571.6 1319.0,571.2 1320.0,570.8 1321.0,570.5 1322.0,570.2 1323.0,570.0 1324.0,569.8 1325.0,569.7 1326.0,569.6 1327.0,569.6 1328.0,569.6 1329.0,569.6 1330.0,569.7 1331.0,569.7 1332.0,569.7 1333.0,569.8 1334.0,569.9 1335.0,569.9 1336.0,570.0 1337.0,570.1 1338.0,570.1 1339.0,570.2 1340.0,570.3 1341.0,570.4 1342.0,570.6 1343.0,570.9 1344.0,571.1 1345.0,571.4 1346.0,571.7 1347.0,572.0 1348.0,572.2 1349.0,572.4 1350.0,572.5 1351.0,572.5 1352.0,572.4 1353.0,572.2 1354.0,572.0 1355.0,571.6 1356.0,571.3 1357.0,570.9 1358.0,570.5 1359.0,570.1 1360.0,569.7 1361.0,569.3 1362.0,569.0 1363.0,568.8 1364.0,568.7 1365.0,568.7 1366.0,568.7 1367.0,568.8 1368.0,568.8 1369.0,568.9 1370.0,569.0 1371.0,569.1 1372.0,569.2 1373.0,569.3 1374.0,569.5 1375.0,569.8 1376.0,570.3 1377.0,570.8 1378.0,571.3 1379.0,571.7 1380.0,571.9 1381.0,572.0 1382.0,571.8 1383.0,571.5 1384.0,571.1 1385.0,570.6 1386.0,570.1 1387.0,569.7 1388.0,569.3 1389.0,569.1 1390.0,568.9 1391.0,568.6 1392.0,568.4 1393.0,568.2 1394.0,568.0 1395.0,567.9 1396.0,567.8 1397.0,567.7 1398.0,567.7 1399.0,567.7 1400.0,567.7 1401.0,567.8 1402.0,567.9 1403.0,567.9 1404.0,568.0 1405.0,568.1 1406.0,568.2 1407.0,568.3 1408.0,568.4 1409.0,568.6 1410.0,568.7 1411.0,568.8 1412.0,568.9 1413.0,569.1 1414.0,569.2 1415.0,569.3 1416.0,569.4 1417.0,569.5 1418.0,569.7 1419.0,569.8 1420.0,569.9 1421.0,570.0 1422.0,570.2 1423.0,570.3 1424.0,570.4 1425.0,570.6 1426.0,570.7 1427.0,570.9 1428.0,571.0 1429.0,571.2 1430.0,571.4 1431.0,571.5 1432.0,571.7 1433.0,571.9 1434.0,572.0 1435.0,572.2 1436.0,572.4 1437.0,572.6 1438.0,572.8 1439.0,573.0 1440.0,573.3 1441.0,573.5 1442.0,573.8 1443.0,574.0 1444.0,574.3 1445.0,574.6 1446.0,574.9 1447.0,575.1 1448.0,575.4 1449.0,575.7 1450.0,576.1 1451.0,576.4 1452.0,576.7 1453.0,577.0 1454.0,577.3 1455.0,577.6 1456.0,577.8 1457.0,578.1 1458.0,578.4 1459.0,578.7 1460.0,579.1 1461.0,579.4 1462.0,579.8 1463.0,580.2 1464.0,580.7 1465.0,581.2 1466.0,581.8 1467.0,582.6 1468.0,583.6 1469.0,585.0 1470.0,586.7 1471.0,589.4 1471.5,591.3 1472.0,593.2 1472.5,595.1 1473.0,596.6 1473.5,598.3 1474.0,600.0 1475.0,602.6 1476.0,602.5 1477.0,599.7 1477.5,598.0 1478.0,596.3 1478.5,594.7 1479.0,592.8 1479.5,590.8 1480.0,589.0 1481.0,586.6 1482.0,586.4 1483.0,586.6 1484.0,586.9 1485.0,587.3 1486.0,587.7 1487.0,588.2 1488.0,588.7 1489.0,589.2 1490.0,589.6 1491.0,590.1 1492.0,590.6 1493.0,591.1 1494.0,591.7 1495.0,592.3 1496.0,592.9 1497.0,593.5 1498.0,594.2 1499.0,594.9 1500.0,595.6 1501.0,596.3 1502.0,597.1 1503.0,597.9 1504.0,598.7 1505.0,599.7 1506.0,600.6 1507.0,601.7 1508.0,602.9 1509.0,604.3 1510.0,605.7 1511.0,607.2 1512.0,608.8 1513.0,610.3 1514.0,611.9 1515.0,613.4 1516.0,615.0 1517.0,616.6 1518.0,618.3 1519.0,619.8 1520.0,621.3 1521.0,622.8 1522.0,624.2 1523.0,625.6 1524.0,626.9 1525.0,628.2 1526.0,629.4 1527.0,630.5 1528.0,631.5 1529.0,632.3 1530.0,633.2 1531.0,634.0 1532.0,634.7 1533.0,635.4 1534.0,636.0 1535.0,636.7 1536.0,637.2 1537.0,637.8 1538.0,638.2 1539.0,638.7 1540.0,639.1 1541.0,639.5 1542.0,639.8 1543.0,640.2 1544.0,640.5 1545.0,640.8 1546.0,641.2 1547.0,641.5 1548.0,641.9 1549.0,642.3 1550.0,642.7 1551.0,643.1 1552.0,643.5 1553.0,644.0 1554.0,644.5 1555.0,644.9 1556.0,645.4 1557.0,645.9 1558.0,646.3 1559.0,646.8 1560.0,647.3 1561.0,647.7 1562.0,648.2 1563.0,648.7 1564.0,649.3 1565.0,649.8 1566.0,650.3 1567.0,650.9 1568.0,651.4 1569.0,651.9 1570.0,652.4 1571.0,652.8 1572.0,653.1 1573.0,653.4 1574.0,653.7 1575.0,653.9 1576.0,654.2 1577.0,654.4 1578.0,654.6 1579.0,654.8 1580.0,655.0 1581.0,655.1 1582.0,655.3 1583.0,655.4 1584.0,655.5 1585.0,655.6 1586.0,655.6 1587.0,655.6 1588.0,655.6 1589.0,655.6 1590.0,655.6 1591.0,655.6 1592.0,655.6 1593.0,655.6 1594.0,655.6 1595.0,655.6 1596.0,655.6 1597.0,655.6 1598.0,655.6 1599.0,655.6 1600.0,655.8 1601.0,656.1 1602.0,656.5 1603.0,657.0 1604.0,657.5 1605.0,658.0 1606.0,658.6 1607.0,659.1 1608.0,659.5 1609.0,659.9 1610.0,660.4 1611.0,660.9 1612.0,661.4 1613.0,661.9 1614.0,662.4 1615.0,662.9 1616.0,663.3 1617.0,663.7 1618.0,664.0 1619.0,664.3 1620.0,664.4 1621.0,664.6 1622.0,664.7 1623.0,664.9 1624.0,665.0 1625.0,665.1 1626.0,665.2 1627.0,665.3 1628.0,665.3 1629.0,665.4 1630.0,665.4 1631.0,665.4 1632.0,665.3 1633.0,665.1 1634.0,664.9 1635.0,664.5 1636.0,664.2 1637.0,663.8 1638.0,663.3 1639.0,662.9 1640.0,662.5 1641.0,662.0 1642.0,661.6 1643.0,661.2 1644.0,660.9 1645.0,660.5 1646.0,660.1 1647.0,659.7 1648.0,659.2 1649.0,658.8 1650.0,658.2 1651.0,657.6 1652.0,656.9 1653.0,656.0 1654.0,655.0 1655.0,653.9 1656.0,652.7 1657.0,651.4 1658.0,650.0 1659.0,648.7 1660.0,647.6 1661.0,646.5 1662.0,645.5 1663.0,644.6 1664.0,643.7 1665.0,643.0"/>
<path stroke="#000000" d="M110.0,811.5 L111.0,811.5 112.0,811.5 113.0,811.5 114.0,811.5 115.0,811.5 116.0,811.5 117.0,811.5 118.0,811.5 119.0,811.5 120.0,811.5 121.0,811.5 122.0,811.5 123.0,811.4 124.0,811.4 125.0,811.4 126.0,811.4 127.0,811.4 128.0,811.3 129.0,811.3 130.0,811.3 131.0,811.3 132.0,811.3 133.0,811.2 134.0,811.2 135.0,811.2 136.0,811.1 137.0,811.1 138.0,811.0 139.0,811.0 140.0,811.0 141.0,810.9 142.0,810.9 143.0,810.8 144.0,810.8 145.0,810.7 146.0,810.7 147.0,810.6 148.0,810.6 149.0,810.6 150.0,810.5 151.0,810.5 152.0,810.4 153.0,810.4 154.0,810.4 155.0,810.3 156.0,810.3 157.0,810.3 158.0,810.3 159.0,810.2 160.0,810.2 161.0,810.2 162.0,810.1 163.0,810.1 164.0,810.1 165.0,810.0 166.0,810.0 167.0,810.0 168.0,809.9 169.0,809.9 170.0,809.8 171.0,809.8 172.0,809.7 173.0,809.7 174.0,809.6 175.0,809.6 176.0,809.5 177.0,809.4 178.0,809.3 179.0,809.3 180.0,809.2 181.0,809.1 182.0,809.0 183.0,808.9 184.0,808.9 185.0,808.8 186.0,808.7 187.0,808.6 188.0,808.5 189.0,808.4 190.0,808.4 191.0,808.3 192.0,808.2 193.0,808.1 194.0,808.0 195.0,808.0 196.0,807.9 197.0,807.8 198.0,807.7 199.0,807.6 200.0,807.5 201.0,807.4 202.0,807.3 203.0,807.2 204.0,807.2 205.0,807.1 206.0,807.0 207.0,806.9 208.0,806.9 209.0,806.8 210.0,806.7 211.0,806.7 212.0,806.7 213.0,806.6 214.0,806.6 215.0,806.6 216.0,806.6 217.0,806.5 218.0,806.5 219.0,806.5 220.0,806.5 221.0,806.4 222.0,806.3 223.0,806.2 224.0,806.1 225.0,805.9 226.0,805.8 227.0,805.6 228.0,805.4 229.0,805.2 230.0,805.1 231.0,805.0 232.0,805.0 233.0,804.9 234.0,804.9 235.0,804.8 236.0,804.8 237.0,804.8 238.0,804.7 239.0,804.7 240.0,804.7 241.0,804.7 242.0,804.7 243.0,804.8 244.0,805.0 245.0,805.2 246.0,805.5 247.0,805.8 248.0,806.1 249.0,806.3 250.0,806.6 251.0,806.8 252.0,807.0 253.0,807.2 254.0,807.5 255.0,807.7 256.0,808.0 257.0,808.4 258.0,808.9 259.0,809.7 260.0,810.7 261.0,811.8 262.0,813.0 263.0,814.2 264.0,815.3 265.0,816.4 266.0,817.5 267.0,818.7 268.0,820.0 269.0,821.3 270.0,822.7 271.0,824.1 272.0,825.6 273.0,827.1 274.0,828.7 275.0,830.4 276.0,832.3 277.0,834.1 278.0,836.1 279.0,838.0 280.0,839.8 281.0,841.7 282.0,843.5 283.0,845.4 284.0,847.2 285.0,849.0 286.0,850.8 287.0,852.6 288.0,854.4 289.0,856.2 290.0,857.9 291.0,859.6 292.0,861.2 293.0,862.7 294.0,864.1 295.0,865.5 296.0,866.9 297.0,868.2 298.0,869.5 299.0,870.7 300.0,871.8 301.0,872.9 302.0,874.0 303.0,875.0 304.0,876.0 305.0,877.0 306.0,877.9 307.0,878.9 308.0,879.8 309.0,880.7 310.0,881.6 311.0,882.5 312.0,883.3 313.0,884.2 314.0,885.0 315.0,885.8 316.0,886.6 317.0,887.4 318.0,888.2 319.0,888.9 320.0,889.7 321.0,890.4 322.0,891.1 323.0,891.8 324.0,892.5 325.0,893.2 326.0,893.9 327.0,894.5 328.0,895.2 329.0,895.9 330.0,896.5 331.0,897.2 332.0,897.8 333.0,898.5 334.0,899.2 335.0,899.8 336.0,900.5 337.0,901.2 338.0,901.8 339.0,902.4 340.0,903.0 341.0,903.5 342.0,904.0 343.0,904.5 344.0,904.9 345.0,905.3 346.0,905.7 347.0,906.1 348.0,906.5 349.0,906.8 350.0,907.1 351.0,907.5 352.0,907.7 353.0,908.0 354.0,908.3 355.0,908.5 356.0,908.6 357.0,908.8 358.0,908.9 359.0,909.0 360.0,909.1 361.0,909.2 362.0,909.3 363.0,909.4 364.0,909.5 365.0,909.6 366.0,909.6 367.0,909.7 368.0,909.7 369.0,909.7 370.0,909.6 371.0,909.5 372.0,909.4 373.0,909.2 374.0,909.0 375.0,908.7 376.0,908.4 377.0,908.1 378.0,907.8 379.0,907.5 380.0,907.2 381.0,906.9 382.0,906.5 383.0,906.1 384.0,905.6 385.0,905.2 386.0,904.7 387.0,904.2 388.0,903.7 389.0,903.1 390.0,902.6 391.0,902.1 392.0,901.6 393.0,901.0 394.0,900.4 395.0,899.8 396.0,899.2 397.0,898.6 398.0,897.9 399.0,897.3 400.0,896.7 401.0,896.1 402.0,895.4 403.0,894.8 404.0,894.1 405.0,893.5 406.0,892.8 407.0,892.1 408.0,891.5 409.0,890.8 410.0,890.2 411.0,889.5 412.0,888.9 413.0,888.3 414.0,887.8 415.0,887.3 416.0,886.8 417.0,886.3 418.0,885.8 419.0,885.4 420.0,884.9 421.0,884.5 422.0,884.1 423.0,883.7 424.0,883.3 425.0,882.9 426.0,882.6 427.0,882.2 428.0,881.8 429.0,881.4 430.0,881.1 431.0,880.7 432.0,880.3 433.0,879.9 434.0,879.5 435.0,879.1 436.0,878.7 437.0,878.3 438.0,877.9 439.0,877.6 440.0,877.2 441.0,876.8 442.0,876.4 443.0,876.0 444.0,875.6 445.0,875.3 446.0,874.9 447.0,874.5 448.0,874.0 449.0,873.6 450.0,873.2 451.0,872.8 452.0,872.3 453.0,871.9 454.0,871.4 455.0,870.9 456.0,870.4 457.0,869.9 458.0,869.4 459.0,868.9 460.0,868.4 461.0,867.9 462.0,867.4 463.0,866.8 464.0,866.3 465.0,865.8 466.0,865.3 467.0,864.8 468.0,864.3 469.0,863.8 470.0,863.3 471.0,862.8 472.0,862.3 473.0,861.9 474.0,861.4 475.0,860.9 476.0,860.4 477.0,860.0 478.0,859.5 479.0,859.0 480.0,858.6 481.0,858.1 482.0,857.6 483.0,857.2 484.0,856.7 485.0,856.3 486.0,855.8 487.0,855.3 488.0,854.9 489.0,854.4 490.0,854.0 491.0,853.5 492.0,853.1 493.0,852.7 494.0,852.2 495.0,851.8 496.0,851.3 497.0,850.9 498.0,850.5 499.0,850.0 500.0,849.6 501.0,849.2 502.0,848.8 503.0,848.4 504.0,848.0 505.0,847.6 506.0,847.2 507.0,846.8 508.0,846.4 509.0,846.0 510.0,845.6 511.0,845.3 512.0,844.9 513.0,844.5 514.0,844.2 515.0,843.8 516.0,843.4 517.0,843.1 518.0,842.7 519.0,842.4 520.0,842.0 521.0,841.7 522.0,841.4 523.0,841.0 524.0,840.7 525.0,840.4 526.0,840.0 527.0,839.7 528.0,839.3 529.0,839.0 530.0,838.6 531.0,838.3 532.0,838.0 533.0,837.6 534.0,837.3 535.0,837.0 536.0,836.8 537.0,836.5 538.0,836.2 539.0,836.0 540.0,835.8 541.0,835.6 542.0,835.5 543.0,835.3 544.0,835.2 545.0,835.0 546.0,834.9 547.0,834.8 548.0,834.7 549.0,834.6 550.0,834.5 551.0,834.3 552.0,834.2 553.0,834.1 554.0,834.0 555.0,833.9 556.0,833.8 557.0,833.7 558.0,833.6 559.0,833.4 560.0,833.3 561.0,833.2 562.0,833.0 563.0,832.8 564.0,832.7 565.0,832.5 566.0,832.3 567.0,832.2 568.0,832.0 569.0,831.8 570.0,831.6 571.0,831.5 572.0,831.3 573.0,831.1 574.0,830.9 575.0,830.7 576.0,830.5 577.0,830.3 578.0,830.2 579.0,830.0 580.0,829.7 581.0,829.5 582.0,829.3 583.0,829.1 584.0,828.9 585.0,828.7 586.0,828.5 587.0,828.3 588.0,828.1 589.0,827.9 590.0,827.7 591.0,827.5 592.0,827.3 593.0,827.1 594.0,827.0 595.0,826.8 596.0,826.7 597.0,826.6 598.0,826.4 599.0,826.3 600.0,826.2 601.0,826.0 602.0,825.9 603.0,825.8 604.0,825.7 605.0,825.6 606.0,825.5 607.0,825.3 608.0,825.2 609.0,825.1 610.0,825.0 611.0,824.9 612.0,824.8 613.0,824.6 614.0,824.5 615.0,824.4 616.0,824.3 617.0,824.2 618.0,824.1 619.0,823.9 620.0,823.8 621.0,823.7 622.0,823.6 623.0,823.5 624.0,823.5 625.0,823.4 626.0,823.3 627.0,823.3 628.0,823.2 629.0,823.2 630.0,823.1 631.0,823.1 632.0,823.1 633.0,823.0 634.0,823.0 635.0,823.0 636.0,822.9 637.0,822.9 638.0,822.9 639.0,822.9 640.0,822.9 641.0,823.1 642.0,823.3 643.0,823.4 644.0,823.5 645.0,823.4 646.0,823.3 647.0,823.0 648.0,822.6 649.0,822.2 650.0,821.8 651.0,821.5 652.0,821.2 653.0,821.0 654.0,820.8 655.0,820.6 656.0,820.4 657.0,820.2 658.0,820.0 659.0,819.8 660.0,819.6 661.0,819.4 662.0,819.2 663.0,819.1 664.0,818.9 665.0,818.8 666.0,818.6 667.0,818.5 668.0,818.3 669.0,818.2 670.0,818.1 671.0,818.0 672.0,817.9 673.0,817.8 674.0,817.7 675.0,817.6 676.0,817.5 677.0,817.4 678.0,817.3 679.0,817.2 680.0,817.1 681.0,817.1 682.0,817.0 683.0,816.9 684.0,816.8 685.0,816.7 686.0,816.6 687.0,816.5 688.0,816.4 689.0,816.3 690.0,816.2 691.0,816.0 692.0,815.9 693.0,815.8 694.0,815.7 695.0,815.6 696.0,815.6 697.0,815.5 698.0,815.4 699.0,815.4 700.0,815.4 701.0,815.4 702.0,815.4 703.0,815.5 704.0,815.5 705.0,815.5 706.0,815.6 707.0,815.6 708.0,815.7 709.0,815.7 710.0,815.7 711.0,815.7 712.0,815.7 713.0,815.6 714.0,815.6 715.0,815.5 716.0,815.4 717.0,815.4 718.0,815.3 719.0,815.2 720.0,815.1 721.0,815.0 722.0,814.9 723.0,814.8 724.0,814.7 725.0,814.6 726.0,814.5 727.0,814.4 728.0,814.3 729.0,814.3 730.0,814.2 731.0,814.2 732.0,814.1 733.0,814.1 734.0,814.1 735.0,814.0 736.0,814.0 737.0,814.0 738.0,813.9 739.0,813.9 740.0,813.9 741.0,813.8 742.0,813.8 743.0,813.8 744.0,813.8 745.0,813.8 746.0,813.7 747.0,813.7 748.0,813.7 749.0,813.7 750.0,813.7 751.0,813.7 752.0,813.7 753.0,813.7 754.0,813.7 755.0,813.7 756.0,813.7 757.0,813.7 758.0,813.7 759.0,813.7 760.0,813.7 761.0,813.7 762.0,813.7 763.0,813.7 764.0,813.7 765.0,813.7 766.0,813.7 767.0,813.7 768.0,813.7 769.0,813.7 770.0,813.7 771.0,813.7 772.0,813.7 773.0,813.7 774.0,813.7 775.0,813.7 776.0,813.7 777.0,813.7 778.0,813.9 779.0,814.0 780.0,814.3 781.0,814.6 782.0,814.9 783.0,815.2 784.0,815.8 785.0,816.6 786.0,817.7 787.0,818.7 788.0,819.6 789.0,820.1 790.0,820.1 791.0,819.6 792.0,818.6 793.0,817.6 794.0,816.7 795.0,816.2 796.0,816.3 797.0,816.5 798.0,816.8 799.0,817.1 800.0,817.2 801.0,817.1 802.0,816.7 803.0,816.1 804.0,815.4 805.0,814.8 806.0,814.3 807.0,814.0 808.0,813.8 809.0,813.5 810.0,813.3 811.0,813.1 812.0,812.9 813.0,812.7 814.0,812.5 815.0,812.4 816.0,812.2 817.0,812.1 818.0,812.0 819.0,811.9 820.0,811.9 821.0,811.8 822.0,811.7 823.0,811.7 824.0,811.6 825.0,811.5 826.0,811.5 827.0,811.4 828.0,811.4 829.0,811.4 830.0,811.3 831.0,811.3 832.0,811.2 833.0,811.2 834.0,811.2 835.0,811.1 836.0,811.1 837.0,811.1 838.0,811.1 839.0,811.0 840.0,811.0 841.0,811.0 842.0,810.9 843.0,810.9 844.0,810.9 845.0,810.9 846.0,810.8 847.0,810.8 848.0,810.8 849.0,810.8 850.0,810.7 851.0,810.7 852.0,810.7 853.0,810.7 854.0,810.7 855.0,810.7 856.0,810.6 857.0,810.6 858.0,810.6 859.0,810.6 860.0,810.6 861.0,810.6 862.0,810.6 863.0,810.6 864.0,810.6 865.0,810.6 866.0,810.6 867.0,810.6 868.0,810.6 869.0,810.6 870.0,810.6 871.0,810.6 872.0,810.5 873.0,810.5 874.0,810.5 875.0,810.5 876.0,810.5 877.0,810.5 878.0,810.5 879.0,810.5 880.0,810.5 881.0,810.5 882.0,810.5 883.0,810.5 884.0,810.5 885.0,810.5 886.0,810.5 887.0,810.5 888.0,810.4 889.0,810.4 890.0,810.4 891.0,810.4 892.0,810.3 893.0,810.3 894.0,810.3 895.0,810.3 896.0,810.2 897.0,810.2 898.0,810.2 899.0,810.1 900.0,810.1 901.0,810.1 902.0,810.1 903.0,810.0 904.0,810.0 905.0,810.0 906.0,810.0 907.0,810.0 908.0,810.0 909.0,810.0 910.0,810.0 911.0,810.0 912.0,810.0 913.0,810.0 914.0,810.0 915.0,810.0 916.0,810.0 917.0,810.0 918.0,810.1 919.0,810.1 920.0,810.1 921.0,810.1 922.0,810.1 923.0,810.1 924.0,810.1 925.0,810.2 926.0,810.2 927.0,810.2 928.0,810.3 929.0,810.4 930.0,810.5 931.0,810.6 932.0,810.7 933.0,810.8 934.0,810.8 935.0,810.8 936.0,810.8 937.0,810.7 938.0,810.6 939.0,810.6 940.0,810.5 941.0,810.4 942.0,810.3 943.0,810.2 944.0,810.1 945.0,810.0 946.0,809.9 947.0,809.8 948.0,809.7 949.0,809.6 950.0,809.5 951.0,809.5 952.0,809.4 953.0,809.3 954.0,809.3 955.0,809.2 956.0,809.2 957.0,809.1 958.0,809.0 959.0,809.0 960.0,808.9 961.0,808.8 962.0,808.8 963.0,808.7 964.0,808.7 965.0,808.6 966.0,808.6 967.0,808.5 968.0,808.4 969.0,808.4 970.0,808.3 971.0,808.3 972.0,808.2 973.0,808.1 974.0,808.1 975.0,808.0 976.0,808.0 977.0,807.9 978.0,807.9 979.0,807.8 980.0,807.7 981.0,807.7 982.0,807.6 983.0,807.6 984.0,807.5 985.0,807.5 986.0,807.4 987.0,807.3 988.0,807.3 989.0,807.2 990.0,807.2 991.0,807.1 992.0,807.1 993.0,807.0 994.0,807.0 995.0,806.9 996.0,806.8 997.0,806.8 998.0,806.7 999.0,806.7 1000.0,806.6 1001.0,806.6 1002.0,806.5 1003.0,806.4 1004.0,806.4 1005.0,806.3 1006.0,806.3 1007.0,806.2 1008.0,806.1 1009.0,806.1 1010.0,806.0 1011.0,806.0 1012.0,805.9 1013.0,805.8 1014.0,805.8 1015.0,805.7 1016.0,805.6 1017.0,805.6 1018.0,805.5 1019.0,805.4 1020.0,805.4 1021.0,805.3 1022.0,805.2 1023.0,805.2 1024.0,805.1 1025.0,805.0 1026.0,805.0 1027.0,804.9 1028.0,804.8 1029.0,804.7 1030.0,804.7 1031.0,804.6 1032.0,804.5 1033.0,804.5 1034.0,804.4 1035.0,804.3 1036.0,804.2 1037.0,804.1 1038.0,804.0 1039.0,804.0 1040.0,803.9 1041.0,803.8 1042.0,803.7 1043.0,803.6 1044.0,803.5 1045.0,803.4 1046.0,803.4 1047.0,803.3 1048.0,803.2 1049.0,803.1 1050.0,803.1 1051.0,803.0 1052.0,803.0 1053.0,803.0 1054.0,802.9 1055.0,802.9 1056.0,802.9 1057.0,802.8 1058.0,802.8 1059.0,802.8 1060.0,802.7 1061.0,802.7 1062.0,802.7 1063.0,802.7 1064.0,802.7 1065.0,803.2 1066.0,804.1 1067.0,805.2 1068.0,806.2 1069.0,807.4 1070.0,808.7 1071.0,809.8 1072.0,810.5 1073.0,810.4 1074.0,809.8 1075.0,808.9 1076.0,807.9 1077.0,807.0 1078.0,805.9 1079.0,804.6 1080.0,803.6 1081.0,803.3 1082.0,803.3 1083.0,803.3 1084.0,803.3 1085.0,803.3 1086.0,803.3 1087.0,803.3 1088.0,803.3 1089.0,803.3 1090.0,803.4 1091.0,803.6 1092.0,803.8 1093.0,804.1 1094.0,804.4 1095.0,804.8 1096.0,805.2 1097.0,805.6 1098.0,806.0 1099.0,806.4 1100.0,807.0 1101.0,807.6 1102.0,808.3 1103.0,809.1 1104.0,809.8 1105.0,810.7 1106.0,811.6 1107.0,812.5 1108.0,813.6 1109.0,814.8 1110.0,816.1 1111.0,817.4 1112.0,818.7 1113.0,820.1 1114.0,821.7 1115.0,823.3 1116.0,825.0 1117.0,826.7 1118.0,828.4 1119.0,830.0 1120.0,831.6 1121.0,833.2 1122.0,834.8 1123.0,836.4 1124.0,838.0 1125.0,839.5 1126.0,841.1 1127.0,842.7 1128.0,844.3 1129.0,845.7 1130.0,846.9 1131.0,848.3 1132.0,849.3 1133.0,849.8 1134.0,849.5 1135.0,848.7 1136.0,847.6 1137.0,846.5 1138.0,845.3 1139.0,843.8 1140.0,842.2 1141.0,840.5 1142.0,838.7 1143.0,837.0 1144.0,835.3 1145.0,833.6 1146.0,831.9 1147.0,830.1 1148.0,828.5 1149.0,827.0 1150.0,825.7 1151.0,824.6 1152.0,823.6 1153.0,822.6 1154.0,821.8 1155.0,821.1 1156.0,820.5 1157.0,820.2 1158.0,820.0 1159.0,819.7 1160.0,819.5 1161.0,819.3 1162.0,819.1 1163.0,819.0 1164.0,818.8 1165.0,818.7 1166.0,818.6 1167.0,818.5 1168.0,818.4 1169.0,818.4 1170.0,818.4 1171.0,818.4 1172.0,818.4 1173.0,818.5 1174.0,818.6 1175.0,818.7 1176.0,818.7 1177.0,818.8 1178.0,819.0 1179.0,819.1 1180.0,819.2 1181.0,819.3 1182.0,819.4 1183.0,819.6 1184.0,819.7 1185.0,819.8 1186.0,819.9 1187.0,820.0 1188.0,820.1 1189.0,820.3 1190.0,820.5 1191.0,820.8 1192.0,821.4 1193.0,822.1 1194.0,823.0 1195.0,824.0 1196.0,825.2 1197.0,826.4 1198.0,827.6 1199.0,828.9 1200.0,830.2 1201.0,831.5 1202.0,833.0 1203.0,834.7 1204.0,836.5 1205.0,838.4 1206.0,840.3 1207.0,842.4 1208.0,844.4 1209.0,846.5 1210.0,848.5 1211.0,850.5 1212.0,852.6 1213.0,854.7 1214.0,856.8 1215.0,859.0 1216.0,861.3 1217.0,863.6 1218.0,866.0 1219.0,868.4 1220.0,870.9 1221.0,873.5 1222.0,876.1 1223.0,878.9 1224.0,881.7 1224.5,883.2 1225.0,884.8 1225.5,886.3 1226.0,887.8 1227.0,890.8 1227.5,892.3 1228.0,894.0 1228.5,895.8 1229.0,897.8 1229.5,900.0 1230.0,902.5 1230.3,904.3 1230.7,906.5 1231.0,909.1 1231.2,911.3 1231.5,913.7 1231.8,916.3 1232.0,919.2 1232.2,921.5 1232.4,924.0 1232.6,926.6 1232.8,929.3 1233.0,932.3 1233.1,934.7 1233.3,937.4 1233.4,940.2 1233.6,943.1 1233.7,946.2 1233.9,949.3 1234.0,952.4 1234.1,955.5 1234.3,958.5 1234.4,961.5 1234.6,964.3 1234.7,967.1 1234.9,969.9 1235.0,972.7 1235.1,975.5 1235.3,978.3 1235.4,981.1 1235.6,983.9 1235.7,986.7 1235.9,989.6 1236.0,992.4 1236.1,995.3 1236.3,998.4 1236.4,1002.2 1236.6,1006.2 1236.7,1009.7 1236.9,1012.3 1237.0,1013.3 1237.5,1011.8 1238.0,1007.7 1238.2,1005.5 1238.4,1003.1 1238.6,1000.6 1238.8,997.9 1239.0,995.1 1239.2,992.3 1239.4,989.5 1239.6,986.7 1239.8,983.7 1240.0,980.4 1240.1,977.9 1240.3,975.2 1240.4,972.4 1240.6,969.5 1240.7,966.3 1240.9,963.0 1241.0,959.6 1241.1,957.5 1241.2,955.4 1241.2,953.1 1241.3,950.2 1241.4,946.9 1241.5,943.3 1241.6,939.6 1241.7,936.0 1241.8,932.7 1241.8,929.8 1241.9,927.5 1242.0,926.0 1242.2,923.0 1242.5,920.4 1242.8,918.2 1243.0,916.4 1244.0,914.2 1245.0,914.4 1246.0,914.8 1247.0,915.4 1248.0,916.0 1249.0,917.0 1250.0,918.3 1251.0,919.5 1252.0,920.1 1253.0,918.9 1253.5,917.4 1254.0,915.5 1254.5,913.4 1255.0,911.2 1255.5,909.2 1256.0,907.2 1256.5,905.0 1257.0,902.6 1257.5,900.1 1258.0,897.5 1258.5,895.0 1259.0,892.4 1259.5,890.0 1260.0,887.8 1260.5,885.7 1261.0,883.8 1261.5,881.9 1262.0,880.0 1262.5,878.2 1263.0,876.5 1263.5,874.8 1264.0,873.1 1264.5,871.5 1265.0,869.9 1266.0,867.0 1267.0,864.3 1268.0,861.8 1269.0,859.5 1270.0,857.2 1271.0,855.0 1272.0,853.0 1273.0,851.0 1274.0,849.2 1275.0,847.4 1276.0,845.7 1277.0,844.2 1278.0,842.7 1279.0,841.2 1280.0,839.8 1281.0,838.4 1282.0,837.1 1283.0,835.8 1284.0,834.6 1285.0,833.4 1286.0,832.3 1287.0,831.2 1288.0,830.2 1289.0,829.2 1290.0,828.3 1291.0,827.4 1292.0,826.6 1293.0,825.8 1294.0,825.0 1295.0,824.3 1296.0,823.6 1297.0,822.9 1298.0,822.2 1299.0,821.5 1300.0,820.9 1301.0,820.3 1302.0,819.7 1303.0,819.1 1304.0,818.6 1305.0,818.0 1306.0,817.5 1307.0,817.0 1308.0,816.6 1309.0,816.1 1310.0,815.6 1311.0,815.1 1312.0,814.6 1313.0,814.1 1314.0,813.7 1315.0,813.2 1316.0,812.7 1317.0,812.3 1318.0,811.9 1319.0,811.5 1320.0,811.1 1321.0,810.8 1322.0,810.4 1323.0,810.2 1324.0,809.9 1325.0,809.7 1326.0,809.5 1327.0,809.4 1328.0,809.3 1329.0,809.2 1330.0,809.1 1331.0,809.1 1332.0,809.0 1333.0,809.0 1334.0,808.9 1335.0,808.9 1336.0,808.9 1337.0,808.8 1338.0,808.8 1339.0,808.7 1340.0,808.7 1341.0,808.7 1342.0,808.6 1343.0,808.6 1344.0,808.5 1345.0,808.5 1346.0,808.4 1347.0,808.4 1348.0,808.3 1349.0,808.3 1350.0,808.2 1351.0,808.1 1352.0,808.1 1353.0,808.0 1354.0,807.9 1355.0,807.7 1356.0,807.5 1357.0,807.3 1358.0,807.0 1359.0,806.8 1360.0,806.5 1361.0,806.2 1362.0,806.0 1363.0,805.8 1364.0,805.6 1365.0,805.4 1366.0,805.3 1367.0,805.1 1368.0,805.0 1369.0,804.8 1370.0,804.7 1371.0,804.6 1372.0,804.5 1373.0,804.5 1374.0,804.6 1375.0,805.0 1376.0,805.5 1377.0,806.1 1378.0,806.8 1379.0,807.3 1380.0,807.6 1381.0,807.7 1382.0,807.6 1383.0,807.4 1384.0,807.2 1385.0,806.9 1386.0,806.6 1387.0,806.3 1388.0,806.1 1389.0,806.0 1390.0,805.8 1391.0,805.7 1392.0,805.5 1393.0,805.4 1394.0,805.2 1395.0,805.1 1396.0,805.1 1397.0,805.0 1398.0,805.0 1399.0,805.0 1400.0,805.1 1401.0,805.1 1402.0,805.2 1403.0,805.3 1404.0,805.4 1405.0,805.5 1406.0,805.7 1407.0,805.8 1408.0,806.0 1409.0,806.1 1410.0,806.3 1411.0,806.5 1412.0,806.6 1413.0,806.8 1414.0,807.0 1415.0,807.1 1416.0,807.2 1417.0,807.4 1418.0,807.5 1419.0,807.7 1420.0,807.8 1421.0,808.0 1422.0,808.2 1423.0,808.3 1424.0,808.5 1425.0,808.7 1426.0,808.8 1427.0,809.0 1428.0,809.2 1429.0,809.4 1430.0,809.6 1431.0,809.8 1432.0,810.0 1433.0,810.2 1434.0,810.4 1435.0,810.6 1436.0,810.8 1437.0,811.0 1438.0,811.3 1439.0,811.5 1440.0,811.8 1441.0,812.1 1442.0,812.4 1443.0,812.6 1444.0,813.0 1445.0,813.3 1446.0,813.6 1447.0,813.9 1448.0,814.2 1449.0,814.6 1450.0,814.9 1451.0,815.2 1452.0,815.6 1453.0,815.9 1454.0,816.2 1455.0,816.5 1456.0,816.8 1457.0,817.1 1458.0,817.4 1459.0,817.7 1460.0,818.0 1461.0,818.3 1462.0,818.7 1463.0,819.2 1464.0,819.7 1465.0,820.2 1466.0,820.8 1467.0,821.6 1468.0,822.8 1469.0,824.3 1470.0,826.2 1471.0,829.0 1471.5,830.7 1472.0,832.6 1473.0,835.5 1474.0,838.1 1475.0,840.0 1476.0,840.1 1477.0,838.6 1478.0,836.5 1479.0,834.4 1480.0,831.7 1481.0,828.9 1482.0,827.1 1483.0,826.9 1484.0,827.1 1485.0,827.4 1486.0,827.8 1487.0,828.2 1488.0,828.7 1489.0,829.2 1490.0,829.6 1491.0,830.1 1492.0,830.6 1493.0,831.2 1494.0,831.7 1495.0,832.3 1496.0,833.0 1497.0,833.6 1498.0,834.3 1499.0,834.9 1500.0,835.6 1501.0,836.3 1502.0,836.9 1503.0,837.6 1504.0,838.4 1505.0,839.1 1506.0,839.9 1507.0,840.7 1508.0,841.6 1509.0,842.6 1510.0,843.6 1511.0,844.8 1512.0,846.0 1513.0,847.2 1514.0,848.4 1515.0,849.5 1516.0,850.6 1517.0,851.7 1518.0,852.7 1519.0,853.8 1520.0,854.8 1521.0,855.8 1522.0,856.8 1523.0,857.7 1524.0,858.5 1525.0,859.3 1526.0,860.1 1527.0,860.9 1528.0,861.7 1529.0,862.4 1530.0,863.1 1531.0,863.7 1532.0,864.3 1533.0,864.9 1534.0,865.4 1535.0,865.9 1536.0,866.4 1537.0,866.8 1538.0,867.2 1539.0,867.6 1540.0,868.0 1541.0,868.4 1542.0,868.7 1543.0,869.1 1544.0,869.5 1545.0,869.9 1546.0,870.3 1547.0,870.7 1548.0,871.2 1549.0,871.6 1550.0,872.0 1551.0,872.4 1552.0,872.8 1553.0,873.2 1554.0,873.7 1555.0,874.1 1556.0,874.5 1557.0,874.9 1558.0,875.4 1559.0,875.9 1560.0,876.4 1561.0,876.9 1562.0,877.4 1563.0,877.9 1564.0,878.4 1565.0,878.8 1566.0,879.3 1567.0,879.7 1568.0,880.1 1569.0,880.4 1570.0,880.7 1571.0,881.1 1572.0,881.4 1573.0,881.7 1574.0,882.0 1575.0,882.3 1576.0,882.6 1577.0,882.8 1578.0,883.0 1579.0,883.1 1580.0,883.2 1581.0,883.2 1582.0,883.2 1583.0,883.1 1584.0,883.0 1585.0,882.9 1586.0,882.8 1587.0,882.7 1588.0,882.6 1589.0,882.5 1590.0,882.4 1591.0,882.3 1592.0,882.2 1593.0,882.2 1594.0,882.2 1595.0,882.3 1596.0,882.4 1597.0,882.5 1598.0,882.7 1599.0,882.8 1600.0,883.0 1601.0,883.3 1602.0,883.5 1603.0,883.7 1604.0,883.9 1605.0,884.2 1606.0,884.5 1607.0,884.8 1608.0,885.2 1609.0,885.6 1610.0,886.0 1611.0,886.4 1612.0,886.8 1613.0,887.2 1614.0,887.5 1615.0,887.9 1616.0,888.2 1617.0,888.5 1618.0,888.8 1619.0,889.1 1620.0,889.5 1621.0,889.8 1622.0,890.1 1623.0,890.4 1624.0,890.7 1625.0,890.9 1626.0,891.0 1627.0,891.1 1628.0,891.1 1629.0,891.1 1630.0,891.0 1631.0,890.9 1632.0,890.8 1633.0,890.6 1634.0,890.5 1635.0,890.3 1636.0,890.1 1637.0,890.0 1638.0,889.8 1639.0,889.7 1640.0,889.5 1641.0,889.4 1642.0,889.2 1643.0,889.1 1644.0,888.9 1645.0,888.8 1646.0,888.6 1647.0,888.5 1648.0,888.3 1649.0,888.2 1650.0,888.1 1651.0,888.0 1652.0,887.9 1653.0,887.9 1654.0,887.8 1655.0,887.7 1656.0,887.7 1657.0,887.6 1658.0,887.6 1659.0,887.6 1660.0,887.6 1661.0,887.5 1662.0,887.5 1663.0,887.5 1664.0,887.5 1665.0,887.5"/>
</g>
<g stroke="#000" stroke-width="5.5" stroke-linecap="round">
<line x1="365.4" y1="210.5" x2="365.4" y2="227.5"/>
<line x1="790.0" y1="123.5" x2="790.0" y2="140.0"/>
<line x1="1135.0" y1="147.5" x2="1135.0" y2="163.5"/>
<line x1="1238.7" y1="301.5" x2="1238.7" y2="316.2"/>
<line x1="1257.3" y1="251.1" x2="1257.3" y2="266.9"/>
<line x1="1382.2" y1="98.6" x2="1382.2" y2="113.3"/>
<line x1="1475.9" y1="140.5" x2="1475.9" y2="155.9"/>
<line x1="1579.4" y1="193.3" x2="1579.4" y2="208.5"/>
<line x1="1632.0" y1="205.5" x2="1632.0" y2="241.1"/>
<line x1="364.6" y1="477.3" x2="364.6" y2="493.8"/>
<line x1="787.5" y1="360.0" x2="787.5" y2="375.5"/>
<line x1="1134.6" y1="398.3" x2="1134.6" y2="412.3"/>
<line x1="1237.6" y1="534.3" x2="1237.6" y2="549.0"/>
<line x1="1251.4" y1="480.0" x2="1251.4" y2="495.8"/>
<line x1="1581.4" y1="418.1" x2="1581.4" y2="432.4"/>
<line x1="1632.7" y1="424.2" x2="1632.7" y2="459.8"/>
<line x1="365.0" y1="716.2" x2="365.0" y2="731.2"/>
<line x1="788.0" y1="610.0" x2="788.0" y2="626.2"/>
<line x1="1134.6" y1="635.5" x2="1134.6" y2="649.5"/>
<line x1="1238.0" y1="778.7" x2="1238.0" y2="793.5"/>
<line x1="1254.0" y1="731.4" x2="1254.0" y2="747.2"/>
<line x1="1380.6" y1="583.1" x2="1380.6" y2="598.4"/>
<line x1="1476.3" y1="612.5" x2="1476.3" y2="628.8"/>
<line x1="1574.9" y1="672.3" x2="1574.9" y2="687.6"/>
<line x1="1626.0" y1="677.4" x2="1626.0" y2="711.9"/>
<line x1="353.8" y1="923.8" x2="353.8" y2="937.5"/>
<line x1="1134.0" y1="859.4" x2="1134.0" y2="874.3"/>
<line x1="1238.6" y1="1025.6" x2="1238.6" y2="1040.3"/>
<line x1="1255.1" y1="931.0" x2="1255.1" y2="945.7"/>
<line x1="1474.9" y1="849.4" x2="1474.9" y2="864.7"/>
<line x1="1578.3" y1="897.1" x2="1578.3" y2="912.4"/>
<line x1="1631.5" y1="903.2" x2="1631.5" y2="937.7"/>
</g>
<g font-family="'Liberation Serif', 'Times New Roman', serif" font-weight="bold" font-size="43.5" fill="#000" text-anchor="end">
<text transform="translate(381.9,234.5) rotate(-90) scale(1,1.06)">3400</text>
<text transform="translate(796.9,145.0) rotate(-90) scale(1,1.06)">2426</text>
<text transform="translate(1148.4,169.0) rotate(-90) scale(1,1.06)">1625</text>
<text transform="translate(1250.6,326.5) rotate(-90) scale(1,1.06)">1384</text>
<text transform="translate(1283.4,270.6) rotate(-90) scale(1,1.06)">1354</text>
<text transform="translate(1395.7,117.8) rotate(-90) scale(1,1.06)">1047</text>
<text transform="translate(1496.1,165.5) rotate(-90) scale(1,1.06)">829</text>
<text transform="translate(1593.4,214.2) rotate(-90) scale(1,1.06)">584</text>
<text transform="translate(1646.2,245.6) rotate(-90) scale(1,1.06)">467</text>
<text transform="translate(378.9,496.3) rotate(-90) scale(1,1.06)">3411</text>
<text transform="translate(787.1,380.2) rotate(-90) scale(1,1.06)">2426</text>
<text transform="translate(1148.2,422.3) rotate(-90) scale(1,1.06)">1626</text>
<text transform="translate(1250.6,557.0) rotate(-90) scale(1,1.06)">1384</text>
<text transform="translate(1282.3,502.0) rotate(-90) scale(1,1.06)">1355</text>
<text transform="translate(1496.1,398.4) rotate(-90) scale(1,1.06)">829</text>
<text transform="translate(1598.5,439.0) rotate(-90) scale(1,1.06)">574</text>
<text transform="translate(1647.2,465.3) rotate(-90) scale(1,1.06)">462</text>
<text transform="translate(378.4,735.2) rotate(-90) scale(1,1.06)">3413</text>
<text transform="translate(787.9,631.5) rotate(-90) scale(1,1.06)">2426</text>
<text transform="translate(1148.2,660.4) rotate(-90) scale(1,1.06)">1626</text>
<text transform="translate(1255.2,797.4) rotate(-90) scale(1,1.06)">1384</text>
<text transform="translate(1285.0,750.7) rotate(-90) scale(1,1.06)">1355</text>
<text transform="translate(1394.7,603.9) rotate(-90) scale(1,1.06)">1051</text>
<text transform="translate(1492.6,639.4) rotate(-90) scale(1,1.06)">829</text>
<text transform="translate(1591.4,691.1) rotate(-90) scale(1,1.06)">578</text>
<text transform="translate(1640.1,717.5) rotate(-90) scale(1,1.06)">468</text>
<text transform="translate(368.4,941.5) rotate(-90) scale(1,1.06)">3421</text>
<text transform="translate(1148.2,886.2) rotate(-90) scale(1,1.06)">1626</text>
<text transform="translate(1252.1,1047.0) rotate(-90) scale(1,1.06)">1384</text>
<text transform="translate(1278.4,949.8) rotate(-90) scale(1,1.06)">1353</text>
<text transform="translate(1492.0,876.4) rotate(-90) scale(1,1.06)">829</text>
<text transform="translate(1594.4,916.9) rotate(-90) scale(1,1.06)">582</text>
<text transform="translate(1646.2,943.3) rotate(-90) scale(1,1.06)">466</text>
</g>
<g font-family="'Liberation Serif', 'Times New Roman', serif" font-size="51.5" fill="#000">
<text x="427.2" y="117.0">P</text>
<line x1="463.0" y1="98.0" x2="500.8" y2="98.0" stroke="#000" stroke-width="2.6"/>
<text x="507.0" y="117.0">0.1PEG</text>
<text x="423.6" y="346.5">P</text>
<line x1="458.9" y1="327.3" x2="496.7" y2="327.3" stroke="#000" stroke-width="2.6"/>
<text x="503.0" y="346.5" textLength="201.8" lengthAdjust="spacingAndGlyphs">0.1CTAB</text>
<text x="425.2" y="607.0">P</text>
<line x1="460.8" y1="588.0" x2="498.3" y2="588.0" stroke="#000" stroke-width="2.6"/>
<text x="505.5" y="607.0">0.1SDS</text>
<text x="422.2" y="817.9">P</text>
<line x1="457.1" y1="798.6" x2="495.1" y2="798.6" stroke="#000" stroke-width="2.6"/>
<text x="501.4" y="817.9">None</text>
</g>
<g stroke="#000" stroke-width="4.2" fill="none" stroke-linecap="round">
<rect x="113.6" y="24.7" width="1546.3" height="1138.6" stroke-linecap="butt"/>
<line x1="113.6" y1="1163.3" x2="113.6" y2="1186.5"/>
<line x1="328.8" y1="1163.3" x2="328.8" y2="1186.5"/>
<line x1="543.5" y1="1163.3" x2="543.5" y2="1186.5"/>
<line x1="758.1" y1="1163.3" x2="758.1" y2="1186.5"/>
<line x1="972.7" y1="1163.3" x2="972.7" y2="1186.5"/>
<line x1="1187.3" y1="1163.3" x2="1187.3" y2="1186.5"/>
<line x1="1402.0" y1="1163.3" x2="1402.0" y2="1186.5"/>
<line x1="1616.6" y1="1163.3" x2="1616.6" y2="1186.5"/>
</g>
<g font-family="'Liberation Serif', 'Times New Roman', serif" font-size="50.2" fill="#000" text-anchor="middle">
<text transform="translate(113.6,1240.6) scale(1,1.055)">4000</text>
<text transform="translate(328.8,1240.6) scale(1,1.055)">3500</text>
<text transform="translate(543.5,1240.6) scale(1,1.055)">3000</text>
<text transform="translate(758.1,1240.6) scale(1,1.055)">2500</text>
<text transform="translate(972.7,1240.6) scale(1,1.055)">2000</text>
<text transform="translate(1187.3,1240.6) scale(1,1.055)">1500</text>
<text transform="translate(1402.0,1240.6) scale(1,1.055)">1000</text>
<text transform="translate(1616.6,1240.6) scale(1,1.055)">500</text>
</g>
<text x="627" y="1340.5" font-family="'Liberation Serif', 'Times New Roman', serif" font-weight="bold" font-size="65.5" textLength="468" lengthAdjust="spacingAndGlyphs">Wavenumber (cm</text>
<text x="1096" y="1307.5" font-family="'Liberation Serif', 'Times New Roman', serif" font-weight="bold" font-size="37">-1</text>
<text x="1125.5" y="1340.5" font-family="'Liberation Serif', 'Times New Roman', serif" font-weight="bold" font-size="65.5">)</text>
<text transform="translate(58,886.5) rotate(-90)" font-family="'Liberation Serif', 'Times New Roman', serif" font-weight="bold" font-size="62" textLength="503" lengthAdjust="spacingAndGlyphs">Transmittance (%)</text>
<line x1="0" y1="1359.5" x2="1672" y2="1359.5" stroke="#f4f4f4" stroke-width="1"/>
</svg></body></html>
